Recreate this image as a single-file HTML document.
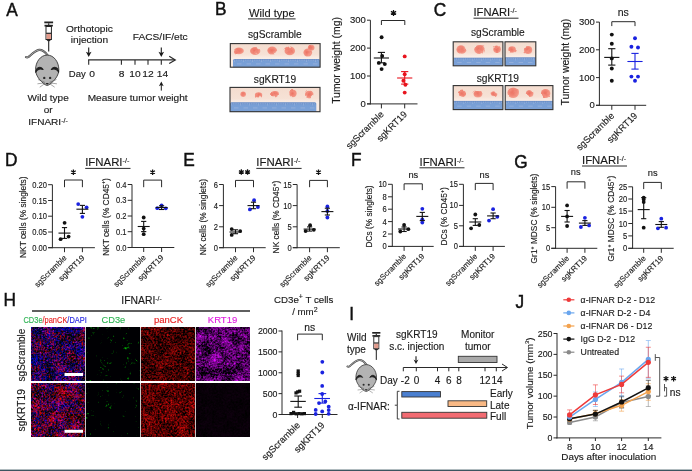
<!DOCTYPE html>
<html><head><meta charset="utf-8"><style>
html,body{margin:0;padding:0;background:#fff;}
svg{display:block;will-change:transform;}
text{font-family:"Liberation Sans", sans-serif;}
</style></head><body>
<svg width="692" height="471" viewBox="0 0 692 471" font-family='"Liberation Sans", sans-serif'>
<defs><filter id="fMerge" x="0" y="0" width="1" height="1" color-interpolation-filters="sRGB">
  <feTurbulence type="fractalNoise" baseFrequency="0.55" numOctaves="2" seed="4" result="t1"/>
  <feColorMatrix in="t1" type="matrix" values="1 0 0 0 0  0 1 0 0 0  0 0 1 0 0  0 0 0 0 1" result="f1"/>
  <feTurbulence type="fractalNoise" baseFrequency="0.09" numOctaves="2" seed="54" result="t2"/>
  <feColorMatrix in="t2" type="matrix" values="1 0 0 0 0  0 1 0 0 0  0 0 1 0 0  0 0 0 0 1" result="f2"/>
  <feComposite in="f1" in2="f2" operator="arithmetic" k1="0" k2="0.8" k3="0.4" k4="-0.10000000000000009" result="m"/>
  <feColorMatrix in="m" type="matrix" values="2.2 0 0 0 -0.95   0 0 0 0 0.02   0 0 1.8 0 -0.6   0 0 0 0 1"/>
  <feGaussianBlur stdDeviation="0.45"/>
</filter>
<filter id="fMerge2" x="0" y="0" width="1" height="1" color-interpolation-filters="sRGB">
  <feTurbulence type="fractalNoise" baseFrequency="0.55" numOctaves="2" seed="9" result="t1"/>
  <feColorMatrix in="t1" type="matrix" values="1 0 0 0 0  0 1 0 0 0  0 0 1 0 0  0 0 0 0 1" result="f1"/>
  <feTurbulence type="fractalNoise" baseFrequency="0.09" numOctaves="2" seed="59" result="t2"/>
  <feColorMatrix in="t2" type="matrix" values="1 0 0 0 0  0 1 0 0 0  0 0 1 0 0  0 0 0 0 1" result="f2"/>
  <feComposite in="f1" in2="f2" operator="arithmetic" k1="0" k2="0.8" k3="0.4" k4="-0.10000000000000009" result="m"/>
  <feColorMatrix in="m" type="matrix" values="2.2 0 0 0 -0.8   0 0 0 0 0.02   0 0 1.8 0 -0.7   0 0 0 0 1"/>
  <feGaussianBlur stdDeviation="0.45"/>
</filter>
<filter id="fGreen" x="0" y="0" width="1" height="1" color-interpolation-filters="sRGB">
  <feTurbulence type="fractalNoise" baseFrequency="0.4" numOctaves="2" seed="21" result="t1"/>
  <feColorMatrix in="t1" type="matrix" values="1 0 0 0 0  0 1 0 0 0  0 0 1 0 0  0 0 0 0 1" result="f1"/>
  <feTurbulence type="fractalNoise" baseFrequency="0.09" numOctaves="2" seed="71" result="t2"/>
  <feColorMatrix in="t2" type="matrix" values="1 0 0 0 0  0 1 0 0 0  0 0 1 0 0  0 0 0 0 1" result="f2"/>
  <feComposite in="f1" in2="f2" operator="arithmetic" k1="0" k2="0.65" k3="0.55" k4="-0.10000000000000009" result="m"/>
  <feColorMatrix in="m" type="matrix" values="0 0 0 0 0   0 2.9 0 0 -1.9   0 0 0 0 0.01   0 0 0 0 1"/>
  <feGaussianBlur stdDeviation="0.6"/>
</filter>
<filter id="fGreen2" x="0" y="0" width="1" height="1" color-interpolation-filters="sRGB">
  <feTurbulence type="fractalNoise" baseFrequency="0.4" numOctaves="2" seed="33" result="t1"/>
  <feColorMatrix in="t1" type="matrix" values="1 0 0 0 0  0 1 0 0 0  0 0 1 0 0  0 0 0 0 1" result="f1"/>
  <feTurbulence type="fractalNoise" baseFrequency="0.09" numOctaves="2" seed="83" result="t2"/>
  <feColorMatrix in="t2" type="matrix" values="1 0 0 0 0  0 1 0 0 0  0 0 1 0 0  0 0 0 0 1" result="f2"/>
  <feComposite in="f1" in2="f2" operator="arithmetic" k1="0" k2="0.65" k3="0.55" k4="-0.10000000000000009" result="m"/>
  <feColorMatrix in="m" type="matrix" values="0 0 0 0 0   0 2.9 0 0 -1.9   0 0 0 0 0.01   0 0 0 0 1"/>
  <feGaussianBlur stdDeviation="0.6"/>
</filter>
<filter id="fRed" x="0" y="0" width="1" height="1" color-interpolation-filters="sRGB">
  <feTurbulence type="fractalNoise" baseFrequency="0.55" numOctaves="2" seed="7" result="t1"/>
  <feColorMatrix in="t1" type="matrix" values="1 0 0 0 0  0 1 0 0 0  0 0 1 0 0  0 0 0 0 1" result="f1"/>
  <feTurbulence type="fractalNoise" baseFrequency="0.09" numOctaves="2" seed="57" result="t2"/>
  <feColorMatrix in="t2" type="matrix" values="1 0 0 0 0  0 1 0 0 0  0 0 1 0 0  0 0 0 0 1" result="f2"/>
  <feComposite in="f1" in2="f2" operator="arithmetic" k1="0" k2="0.85" k3="0.35" k4="-0.09999999999999998" result="m"/>
  <feColorMatrix in="m" type="matrix" values="1.55 0 0 0 -0.52   0.08 0 0 0 -0.03   0.08 0 0 0 -0.03   0 0 0 0 1"/>
  <feGaussianBlur stdDeviation="0.45"/>
</filter>
<filter id="fRed2" x="0" y="0" width="1" height="1" color-interpolation-filters="sRGB">
  <feTurbulence type="fractalNoise" baseFrequency="0.55" numOctaves="2" seed="13" result="t1"/>
  <feColorMatrix in="t1" type="matrix" values="1 0 0 0 0  0 1 0 0 0  0 0 1 0 0  0 0 0 0 1" result="f1"/>
  <feTurbulence type="fractalNoise" baseFrequency="0.09" numOctaves="2" seed="63" result="t2"/>
  <feColorMatrix in="t2" type="matrix" values="1 0 0 0 0  0 1 0 0 0  0 0 1 0 0  0 0 0 0 1" result="f2"/>
  <feComposite in="f1" in2="f2" operator="arithmetic" k1="0" k2="0.85" k3="0.35" k4="-0.09999999999999998" result="m"/>
  <feColorMatrix in="m" type="matrix" values="1.6 0 0 0 -0.46   0.08 0 0 0 -0.03   0.08 0 0 0 -0.03   0 0 0 0 1"/>
  <feGaussianBlur stdDeviation="0.45"/>
</filter>
<filter id="fMag" x="0" y="0" width="1" height="1" color-interpolation-filters="sRGB">
  <feTurbulence type="fractalNoise" baseFrequency="0.55" numOctaves="2" seed="11" result="t1"/>
  <feColorMatrix in="t1" type="matrix" values="1 0 0 0 0  0 1 0 0 0  0 0 1 0 0  0 0 0 0 1" result="f1"/>
  <feTurbulence type="fractalNoise" baseFrequency="0.09" numOctaves="2" seed="61" result="t2"/>
  <feColorMatrix in="t2" type="matrix" values="1 0 0 0 0  0 1 0 0 0  0 0 1 0 0  0 0 0 0 1" result="f2"/>
  <feComposite in="f1" in2="f2" operator="arithmetic" k1="0" k2="0.65" k3="0.55" k4="-0.10000000000000009" result="m"/>
  <feColorMatrix in="m" type="matrix" values="1.75 0 0 0 -0.56   0.1 0 0 0 -0.04   1.95 0 0 0 -0.6   0 0 0 0 1"/>
  <feGaussianBlur stdDeviation="0.45"/>
</filter>
<filter id="fDark" x="0" y="0" width="1" height="1" color-interpolation-filters="sRGB">
  <feTurbulence type="fractalNoise" baseFrequency="0.55" numOctaves="2" seed="5" result="t1"/>
  <feColorMatrix in="t1" type="matrix" values="1 0 0 0 0  0 1 0 0 0  0 0 1 0 0  0 0 0 0 1" result="f1"/>
  <feTurbulence type="fractalNoise" baseFrequency="0.09" numOctaves="2" seed="55" result="t2"/>
  <feColorMatrix in="t2" type="matrix" values="1 0 0 0 0  0 1 0 0 0  0 0 1 0 0  0 0 0 0 1" result="f2"/>
  <feComposite in="f1" in2="f2" operator="arithmetic" k1="0" k2="0.65" k3="0.55" k4="-0.10000000000000009" result="m"/>
  <feColorMatrix in="m" type="matrix" values="0.12 0 0 0 -0.03   0 0 0 0 0   0.12 0 0 0 -0.03   0 0 0 0 1"/>
  <feGaussianBlur stdDeviation="0.45"/>
</filter>
<filter id="fLump" x="-0.2" y="-0.2" width="1.4" height="1.4" color-interpolation-filters="sRGB">
  <feTurbulence type="fractalNoise" baseFrequency="0.16" numOctaves="1" seed="17" result="n"/>
  <feDisplacementMap in="SourceGraphic" in2="n" scale="3" xChannelSelector="R" yChannelSelector="G" result="d"/>
  <feTurbulence type="fractalNoise" baseFrequency="0.32" numOctaves="1" seed="23" result="n2"/>
  <feColorMatrix in="n2" type="matrix" values="0 0 0 0 0.97  0 0 0 0 0.62  0 0 0 0 0.56  1.6 0 0 0 -0.78" result="hl"/>
  <feComposite in="hl" in2="d" operator="atop" result="c"/>
  <feGaussianBlur in="c" stdDeviation="0.3"/>
</filter>
<linearGradient id="gPeach" x1="0" y1="0" x2="0" y2="1">
  <stop offset="0" stop-color="#f4dccf"/><stop offset="0.45" stop-color="#f6e1d5"/><stop offset="0.62" stop-color="#faede5"/><stop offset="1" stop-color="#f8eae1"/>
</linearGradient>
<linearGradient id="gRuler" x1="0" y1="0" x2="0" y2="1">
  <stop offset="0" stop-color="#6489c3"/><stop offset="0.25" stop-color="#789fd6"/><stop offset="1" stop-color="#7ca2d8"/>
</linearGradient>
<radialGradient id="gTumor" cx="0.45" cy="0.45" r="0.6">
  <stop offset="0" stop-color="#ec7262"/><stop offset="0.55" stop-color="#f08676"/><stop offset="0.85" stop-color="#f39a8a"/><stop offset="1" stop-color="#f6b2a2"/>
</radialGradient>
</defs>
<rect width="692" height="471" fill="#fff"/>
<text x="0" y="0" font-size="18.2" fill="#111" stroke="#111" stroke-width="0.45" transform="translate(6.27 16.0) scale(0.95 1)">A</text>
<g transform="translate(48.7 21.5) scale(1.0)"><rect x="-4.4" y="0" width="8.8" height="1.8" fill="#222"/><rect x="-0.6" y="1.8" width="1.2" height="1.6" fill="#222"/><rect x="-4.2" y="3.3" width="8.4" height="1.7" fill="#222"/><rect x="-2.7" y="5" width="5.4" height="13" fill="#fff" stroke="#222" stroke-width="1"/><rect x="-2.2" y="12.2" width="4.4" height="5.3" fill="#e29a8b"/><rect x="-2.6" y="11.2" width="5.2" height="1.2" fill="#222"/><path d="M-2.7,18 L0,20.5 L2.7,18 Z" fill="#222"/><rect x="-0.55" y="20" width="1.1" height="10" fill="#222"/></g>
<g transform="translate(47.2 55.1) scale(1.13)"><path d="M0.4,0.2 C-2,-3 -4.5,-4.8 -7.2,-4.6 C-10.5,-4.2 -14,-0.5 -16.5,1.6 C-17.4,2.2 -18.3,2.1 -18.8,1.8" fill="none" stroke="#4a4a4a" stroke-width="1.9" stroke-linecap="round"/><path d="M0.4,0.2 C-2,-3 -4.5,-4.8 -7.2,-4.6 C-10.5,-4.2 -14,-0.5 -16.5,1.6 C-17.4,2.2 -18.3,2.1 -18.8,1.8" fill="none" stroke="#b5b5b5" stroke-width="0.8" stroke-linecap="round"/><path d="M0,0 C6,0 10.3,6.2 10.3,12.8 C10.3,18.2 6.2,23 1.8,26.2 L0,26.9 L-1.8,26.2 C-6.2,23 -10.3,18.2 -10.3,12.8 C-10.3,6.2 -6,0 0,0 Z" fill="#b3b3b3" stroke="#3a3a3a" stroke-width="0.8"/><path d="M-10.2,15.2 C-9.8,10.4 -5.6,9.2 -3.6,12.8 C-5.8,11.6 -8.8,12.2 -10.2,15.2 Z" fill="#1e1e1e" stroke="#1e1e1e" stroke-width="0.9" stroke-linejoin="round"/><path d="M10.2,15.2 C9.8,10.4 5.6,9.2 3.6,12.8 C5.8,11.6 8.8,12.2 10.2,15.2 Z" fill="#1e1e1e" stroke="#1e1e1e" stroke-width="0.9" stroke-linejoin="round"/><circle cx="-2.6" cy="20.2" r="1.05" fill="#2a2a2a"/><circle cx="2.6" cy="20.2" r="1.05" fill="#2a2a2a"/><path d="M-1.6,24.6 L0,26.2 L1.6,24.6 Z" fill="#222"/><path d="M-2.2,24 L-8.2,21.6 M-2.2,24.6 L-8.6,25.4 M-2,25.2 L-6.6,28.4 M2.2,24 L8.2,21.6 M2.2,24.6 L8.6,25.4 M2,25.2 L6.6,28.4" stroke="#555" stroke-width="0.45" fill="none"/></g>
<text x="0" y="0" font-size="9.3" text-anchor="middle" fill="#1a1a1a" transform="translate(48.1 101.2) scale(1.08 1)" stroke="#1a1a1a" stroke-width="0.14" >Wild type</text>
<text x="0" y="0" font-size="9.3" text-anchor="middle" fill="#1a1a1a" transform="translate(48.1 113.3) scale(1.08 1)" stroke="#1a1a1a" stroke-width="0.14" >or</text>
<text x="0" y="0" font-size="9.3" text-anchor="start" fill="#1a1a1a" transform="translate(28.3 125.4) scale(1.08 1)" stroke="#1a1a1a" stroke-width="0.14" >IFNARI<tspan font-size="6.6" dy="-2.8">-/-</tspan></text>
<text x="0" y="0" font-size="9.600000000000001" text-anchor="middle" fill="#1a1a1a" transform="translate(89.4 31.7) scale(1.06 1)" stroke="#1a1a1a" stroke-width="0.14" >Orthotopic</text>
<text x="0" y="0" font-size="9.600000000000001" text-anchor="middle" fill="#1a1a1a" transform="translate(89.4 43.4) scale(1.06 1)" stroke="#1a1a1a" stroke-width="0.14" >injection</text>
<line x1="88.7" y1="47.5" x2="88.7" y2="55.0" stroke="#1a1a1a" stroke-width="1.1" />
<path d="M85.9,51.8 L88.7,57.0 L91.5,51.8 L88.7,53.099999999999994 Z" fill="#1a1a1a"/>
<line x1="88.1" y1="59.9" x2="175" y2="59.9" stroke="#2a2a2a" stroke-width="1.3" />
<polyline points="169.2,56.2 175.3,59.9 169.2,63.6" fill="none" stroke="#2a2a2a" stroke-width="1.2"/>
<line x1="88.7" y1="59.9" x2="88.7" y2="64.8" stroke="#2a2a2a" stroke-width="1.1" />
<line x1="121.4" y1="59.9" x2="121.4" y2="64.8" stroke="#2a2a2a" stroke-width="1.1" />
<line x1="135" y1="59.9" x2="135" y2="64.8" stroke="#2a2a2a" stroke-width="1.1" />
<line x1="148" y1="59.9" x2="148" y2="64.8" stroke="#2a2a2a" stroke-width="1.1" />
<line x1="161.3" y1="59.9" x2="161.3" y2="64.8" stroke="#2a2a2a" stroke-width="1.1" />
<text x="68.8" y="76.6" font-size="9.5" text-anchor="start" fill="#1a1a1a" stroke="#1a1a1a" stroke-width="0.14" >Day</text>
<text x="0" y="0" font-size="9.5" text-anchor="middle" fill="#1a1a1a" transform="translate(92.0 76.8) scale(1.08 1)" stroke="#1a1a1a" stroke-width="0.14" >0</text>
<text x="0" y="0" font-size="9.5" text-anchor="middle" fill="#1a1a1a" transform="translate(121.6 76.8) scale(1.08 1)" stroke="#1a1a1a" stroke-width="0.14" >8</text>
<text x="0" y="0" font-size="9.5" text-anchor="middle" fill="#1a1a1a" transform="translate(135 76.8) scale(1.08 1)" stroke="#1a1a1a" stroke-width="0.14" >10</text>
<text x="0" y="0" font-size="9.5" text-anchor="middle" fill="#1a1a1a" transform="translate(148 76.8) scale(1.08 1)" stroke="#1a1a1a" stroke-width="0.14" >12</text>
<text x="0" y="0" font-size="9.5" text-anchor="middle" fill="#1a1a1a" transform="translate(162.4 76.8) scale(1.08 1)" stroke="#1a1a1a" stroke-width="0.14" >14</text>
<text x="0" y="0" font-size="9.600000000000001" text-anchor="middle" fill="#1a1a1a" transform="translate(160.2 40) scale(1.06 1)" stroke="#1a1a1a" stroke-width="0.14" >FACS/IF/etc</text>
<line x1="161.3" y1="47.5" x2="161.3" y2="55.0" stroke="#1a1a1a" stroke-width="1.1" />
<path d="M158.5,51.8 L161.3,57.0 L164.10000000000002,51.8 L161.3,53.099999999999994 Z" fill="#1a1a1a"/>
<line x1="161.3" y1="90.6" x2="161.3" y2="83.6" stroke="#1a1a1a" stroke-width="1.0" />
<path d="M158.9,86.19999999999999 L161.3,81.6 L163.70000000000002,86.19999999999999 L161.3,84.99999999999999 Z" fill="#1a1a1a"/>
<text x="0" y="0" font-size="9.5" text-anchor="middle" fill="#1a1a1a" transform="translate(137.6 100.8) scale(1.065 1)" stroke="#1a1a1a" stroke-width="0.14" >Measure tumor weight</text>
<text x="0" y="0" font-size="18.2" fill="#111" stroke="#111" stroke-width="0.45" transform="translate(214.9 15.4) scale(0.95 1)">B</text>
<text x="271.8" y="16.9" font-size="11.1" text-anchor="middle" fill="#1a1a1a" stroke="#1a1a1a" stroke-width="0.14" >Wild type</text>
<line x1="248" y1="18.9" x2="295.6" y2="18.9" stroke="#2a2a2a" stroke-width="1.0" />
<text x="274.9" y="37.5" font-size="10.2" text-anchor="middle" fill="#1a1a1a" stroke="#1a1a1a" stroke-width="0.14" >sgScramble</text>
<clipPath id="phc1"><rect x="230.3" y="43.6" width="89.8" height="23.6"/></clipPath>
<g clip-path="url(#phc1)">
<rect x="230.3" y="43.6" width="89.8" height="23.6" fill="url(#gPeach)" stroke="none" stroke-width="1" />
<rect x="233.0" y="58.9" width="87.10000000000002" height="10.300000000000004" rx="1.5" fill="url(#gRuler)"/>
<line x1="234.5" y1="59.5" x2="234.5" y2="62.1" stroke="#a9bfe3" stroke-width="0.45" />
<line x1="236.3" y1="59.5" x2="236.3" y2="61.0" stroke="#a9bfe3" stroke-width="0.45" />
<line x1="238.1" y1="59.5" x2="238.1" y2="61.0" stroke="#a9bfe3" stroke-width="0.45" />
<line x1="239.9" y1="59.5" x2="239.9" y2="61.0" stroke="#a9bfe3" stroke-width="0.45" />
<line x1="241.7" y1="59.5" x2="241.7" y2="61.0" stroke="#a9bfe3" stroke-width="0.45" />
<line x1="243.5" y1="59.5" x2="243.5" y2="62.1" stroke="#a9bfe3" stroke-width="0.45" />
<line x1="245.3" y1="59.5" x2="245.3" y2="61.0" stroke="#a9bfe3" stroke-width="0.45" />
<line x1="247.1" y1="59.5" x2="247.1" y2="61.0" stroke="#a9bfe3" stroke-width="0.45" />
<line x1="248.9" y1="59.5" x2="248.9" y2="61.0" stroke="#a9bfe3" stroke-width="0.45" />
<line x1="250.7" y1="59.5" x2="250.7" y2="61.0" stroke="#a9bfe3" stroke-width="0.45" />
<line x1="252.5" y1="59.5" x2="252.5" y2="62.1" stroke="#a9bfe3" stroke-width="0.45" />
<line x1="254.3" y1="59.5" x2="254.3" y2="61.0" stroke="#a9bfe3" stroke-width="0.45" />
<line x1="256.1" y1="59.5" x2="256.1" y2="61.0" stroke="#a9bfe3" stroke-width="0.45" />
<line x1="257.9" y1="59.5" x2="257.9" y2="61.0" stroke="#a9bfe3" stroke-width="0.45" />
<line x1="259.7" y1="59.5" x2="259.7" y2="61.0" stroke="#a9bfe3" stroke-width="0.45" />
<line x1="261.5" y1="59.5" x2="261.5" y2="62.1" stroke="#a9bfe3" stroke-width="0.45" />
<line x1="263.3" y1="59.5" x2="263.3" y2="61.0" stroke="#a9bfe3" stroke-width="0.45" />
<line x1="265.1" y1="59.5" x2="265.1" y2="61.0" stroke="#a9bfe3" stroke-width="0.45" />
<line x1="266.9" y1="59.5" x2="266.9" y2="61.0" stroke="#a9bfe3" stroke-width="0.45" />
<line x1="268.7" y1="59.5" x2="268.7" y2="61.0" stroke="#a9bfe3" stroke-width="0.45" />
<line x1="270.5" y1="59.5" x2="270.5" y2="62.1" stroke="#a9bfe3" stroke-width="0.45" />
<line x1="272.3" y1="59.5" x2="272.3" y2="61.0" stroke="#a9bfe3" stroke-width="0.45" />
<line x1="274.1" y1="59.5" x2="274.1" y2="61.0" stroke="#a9bfe3" stroke-width="0.45" />
<line x1="275.9" y1="59.5" x2="275.9" y2="61.0" stroke="#a9bfe3" stroke-width="0.45" />
<line x1="277.7" y1="59.5" x2="277.7" y2="61.0" stroke="#a9bfe3" stroke-width="0.45" />
<line x1="279.5" y1="59.5" x2="279.5" y2="62.1" stroke="#a9bfe3" stroke-width="0.45" />
<line x1="281.3" y1="59.5" x2="281.3" y2="61.0" stroke="#a9bfe3" stroke-width="0.45" />
<line x1="283.1" y1="59.5" x2="283.1" y2="61.0" stroke="#a9bfe3" stroke-width="0.45" />
<line x1="284.9" y1="59.5" x2="284.9" y2="61.0" stroke="#a9bfe3" stroke-width="0.45" />
<line x1="286.7" y1="59.5" x2="286.7" y2="61.0" stroke="#a9bfe3" stroke-width="0.45" />
<line x1="288.5" y1="59.5" x2="288.5" y2="62.1" stroke="#a9bfe3" stroke-width="0.45" />
<line x1="290.3" y1="59.5" x2="290.3" y2="61.0" stroke="#a9bfe3" stroke-width="0.45" />
<line x1="292.1" y1="59.5" x2="292.1" y2="61.0" stroke="#a9bfe3" stroke-width="0.45" />
<line x1="293.9" y1="59.5" x2="293.9" y2="61.0" stroke="#a9bfe3" stroke-width="0.45" />
<line x1="295.7" y1="59.5" x2="295.7" y2="61.0" stroke="#a9bfe3" stroke-width="0.45" />
<line x1="297.5" y1="59.5" x2="297.5" y2="62.1" stroke="#a9bfe3" stroke-width="0.45" />
<line x1="299.3" y1="59.5" x2="299.3" y2="61.0" stroke="#a9bfe3" stroke-width="0.45" />
<line x1="301.1" y1="59.5" x2="301.1" y2="61.0" stroke="#a9bfe3" stroke-width="0.45" />
<line x1="302.9" y1="59.5" x2="302.9" y2="61.0" stroke="#a9bfe3" stroke-width="0.45" />
<line x1="304.7" y1="59.5" x2="304.7" y2="61.0" stroke="#a9bfe3" stroke-width="0.45" />
<line x1="306.5" y1="59.5" x2="306.5" y2="62.1" stroke="#a9bfe3" stroke-width="0.45" />
<line x1="308.3" y1="59.5" x2="308.3" y2="61.0" stroke="#a9bfe3" stroke-width="0.45" />
<line x1="310.1" y1="59.5" x2="310.1" y2="61.0" stroke="#a9bfe3" stroke-width="0.45" />
<line x1="311.9" y1="59.5" x2="311.9" y2="61.0" stroke="#a9bfe3" stroke-width="0.45" />
<line x1="313.7" y1="59.5" x2="313.7" y2="61.0" stroke="#a9bfe3" stroke-width="0.45" />
<line x1="315.5" y1="59.5" x2="315.5" y2="62.1" stroke="#a9bfe3" stroke-width="0.45" />
<line x1="317.3" y1="59.5" x2="317.3" y2="61.0" stroke="#a9bfe3" stroke-width="0.45" />
<line x1="319.1" y1="59.5" x2="319.1" y2="61.0" stroke="#a9bfe3" stroke-width="0.45" />
<rect x="237.0" y="63.465" width="4.5" height="0.9" fill="#9db4dc" stroke="none" stroke-width="1" opacity="0.8"/>
<rect x="246.5" y="63.465" width="4.5" height="0.9" fill="#9db4dc" stroke="none" stroke-width="1" opacity="0.8"/>
<rect x="256.0" y="63.465" width="4.5" height="0.9" fill="#9db4dc" stroke="none" stroke-width="1" opacity="0.8"/>
<rect x="265.5" y="63.465" width="4.5" height="0.9" fill="#9db4dc" stroke="none" stroke-width="1" opacity="0.8"/>
<rect x="275.0" y="63.465" width="4.5" height="0.9" fill="#9db4dc" stroke="none" stroke-width="1" opacity="0.8"/>
<rect x="284.5" y="63.465" width="4.5" height="0.9" fill="#9db4dc" stroke="none" stroke-width="1" opacity="0.8"/>
<rect x="294.0" y="63.465" width="4.5" height="0.9" fill="#9db4dc" stroke="none" stroke-width="1" opacity="0.8"/>
<rect x="303.5" y="63.465" width="4.5" height="0.9" fill="#9db4dc" stroke="none" stroke-width="1" opacity="0.8"/>
<rect x="313.0" y="63.465" width="4.5" height="0.9" fill="#9db4dc" stroke="none" stroke-width="1" opacity="0.8"/>
<g filter="url(#fLump)">
<ellipse cx="238.9" cy="50.9" rx="5" ry="3.4" fill="url(#gTumor)"/>
<ellipse cx="255.2" cy="51" rx="5.2" ry="4" fill="url(#gTumor)"/>
<ellipse cx="272.2" cy="50.6" rx="4.9" ry="4" fill="url(#gTumor)"/>
<ellipse cx="289.8" cy="50.9" rx="5.3" ry="4.3" fill="url(#gTumor)"/>
<ellipse cx="307.8" cy="52.6" rx="4.4" ry="4" fill="url(#gTumor)"/>
<ellipse cx="311.2" cy="47.8" rx="3.4" ry="3.0" fill="url(#gTumor)"/>
</g>
</g>
<rect x="230.3" y="43.6" width="89.8" height="23.6" fill="none" stroke="#303030" stroke-width="1.1" />
<text x="275" y="83.3" font-size="10.2" text-anchor="middle" fill="#1a1a1a" stroke="#1a1a1a" stroke-width="0.14" >sgKRT19</text>
<clipPath id="phc2"><rect x="230" y="87.4" width="90" height="24.3"/></clipPath>
<g clip-path="url(#phc2)">
<rect x="230" y="87.4" width="90" height="24.3" fill="url(#gPeach)" stroke="none" stroke-width="1" />
<rect x="230" y="102.3" width="86.30000000000001" height="11.400000000000006" rx="1.5" fill="url(#gRuler)"/>
<line x1="231.5" y1="102.89999999999999" x2="231.5" y2="105.49999999999999" stroke="#a9bfe3" stroke-width="0.45" />
<line x1="233.3" y1="102.89999999999999" x2="233.3" y2="104.39999999999999" stroke="#a9bfe3" stroke-width="0.45" />
<line x1="235.1" y1="102.89999999999999" x2="235.1" y2="104.39999999999999" stroke="#a9bfe3" stroke-width="0.45" />
<line x1="236.9" y1="102.89999999999999" x2="236.9" y2="104.39999999999999" stroke="#a9bfe3" stroke-width="0.45" />
<line x1="238.7" y1="102.89999999999999" x2="238.7" y2="104.39999999999999" stroke="#a9bfe3" stroke-width="0.45" />
<line x1="240.5" y1="102.89999999999999" x2="240.5" y2="105.49999999999999" stroke="#a9bfe3" stroke-width="0.45" />
<line x1="242.3" y1="102.89999999999999" x2="242.3" y2="104.39999999999999" stroke="#a9bfe3" stroke-width="0.45" />
<line x1="244.1" y1="102.89999999999999" x2="244.1" y2="104.39999999999999" stroke="#a9bfe3" stroke-width="0.45" />
<line x1="245.9" y1="102.89999999999999" x2="245.9" y2="104.39999999999999" stroke="#a9bfe3" stroke-width="0.45" />
<line x1="247.7" y1="102.89999999999999" x2="247.7" y2="104.39999999999999" stroke="#a9bfe3" stroke-width="0.45" />
<line x1="249.5" y1="102.89999999999999" x2="249.5" y2="105.49999999999999" stroke="#a9bfe3" stroke-width="0.45" />
<line x1="251.3" y1="102.89999999999999" x2="251.3" y2="104.39999999999999" stroke="#a9bfe3" stroke-width="0.45" />
<line x1="253.1" y1="102.89999999999999" x2="253.1" y2="104.39999999999999" stroke="#a9bfe3" stroke-width="0.45" />
<line x1="254.9" y1="102.89999999999999" x2="254.9" y2="104.39999999999999" stroke="#a9bfe3" stroke-width="0.45" />
<line x1="256.7" y1="102.89999999999999" x2="256.7" y2="104.39999999999999" stroke="#a9bfe3" stroke-width="0.45" />
<line x1="258.5" y1="102.89999999999999" x2="258.5" y2="105.49999999999999" stroke="#a9bfe3" stroke-width="0.45" />
<line x1="260.3" y1="102.89999999999999" x2="260.3" y2="104.39999999999999" stroke="#a9bfe3" stroke-width="0.45" />
<line x1="262.1" y1="102.89999999999999" x2="262.1" y2="104.39999999999999" stroke="#a9bfe3" stroke-width="0.45" />
<line x1="263.9" y1="102.89999999999999" x2="263.9" y2="104.39999999999999" stroke="#a9bfe3" stroke-width="0.45" />
<line x1="265.7" y1="102.89999999999999" x2="265.7" y2="104.39999999999999" stroke="#a9bfe3" stroke-width="0.45" />
<line x1="267.5" y1="102.89999999999999" x2="267.5" y2="105.49999999999999" stroke="#a9bfe3" stroke-width="0.45" />
<line x1="269.3" y1="102.89999999999999" x2="269.3" y2="104.39999999999999" stroke="#a9bfe3" stroke-width="0.45" />
<line x1="271.1" y1="102.89999999999999" x2="271.1" y2="104.39999999999999" stroke="#a9bfe3" stroke-width="0.45" />
<line x1="272.9" y1="102.89999999999999" x2="272.9" y2="104.39999999999999" stroke="#a9bfe3" stroke-width="0.45" />
<line x1="274.7" y1="102.89999999999999" x2="274.7" y2="104.39999999999999" stroke="#a9bfe3" stroke-width="0.45" />
<line x1="276.5" y1="102.89999999999999" x2="276.5" y2="105.49999999999999" stroke="#a9bfe3" stroke-width="0.45" />
<line x1="278.3" y1="102.89999999999999" x2="278.3" y2="104.39999999999999" stroke="#a9bfe3" stroke-width="0.45" />
<line x1="280.1" y1="102.89999999999999" x2="280.1" y2="104.39999999999999" stroke="#a9bfe3" stroke-width="0.45" />
<line x1="281.9" y1="102.89999999999999" x2="281.9" y2="104.39999999999999" stroke="#a9bfe3" stroke-width="0.45" />
<line x1="283.7" y1="102.89999999999999" x2="283.7" y2="104.39999999999999" stroke="#a9bfe3" stroke-width="0.45" />
<line x1="285.5" y1="102.89999999999999" x2="285.5" y2="105.49999999999999" stroke="#a9bfe3" stroke-width="0.45" />
<line x1="287.3" y1="102.89999999999999" x2="287.3" y2="104.39999999999999" stroke="#a9bfe3" stroke-width="0.45" />
<line x1="289.1" y1="102.89999999999999" x2="289.1" y2="104.39999999999999" stroke="#a9bfe3" stroke-width="0.45" />
<line x1="290.9" y1="102.89999999999999" x2="290.9" y2="104.39999999999999" stroke="#a9bfe3" stroke-width="0.45" />
<line x1="292.7" y1="102.89999999999999" x2="292.7" y2="104.39999999999999" stroke="#a9bfe3" stroke-width="0.45" />
<line x1="294.5" y1="102.89999999999999" x2="294.5" y2="105.49999999999999" stroke="#a9bfe3" stroke-width="0.45" />
<line x1="296.3" y1="102.89999999999999" x2="296.3" y2="104.39999999999999" stroke="#a9bfe3" stroke-width="0.45" />
<line x1="298.1" y1="102.89999999999999" x2="298.1" y2="104.39999999999999" stroke="#a9bfe3" stroke-width="0.45" />
<line x1="299.9" y1="102.89999999999999" x2="299.9" y2="104.39999999999999" stroke="#a9bfe3" stroke-width="0.45" />
<line x1="301.7" y1="102.89999999999999" x2="301.7" y2="104.39999999999999" stroke="#a9bfe3" stroke-width="0.45" />
<line x1="303.5" y1="102.89999999999999" x2="303.5" y2="105.49999999999999" stroke="#a9bfe3" stroke-width="0.45" />
<line x1="305.3" y1="102.89999999999999" x2="305.3" y2="104.39999999999999" stroke="#a9bfe3" stroke-width="0.45" />
<line x1="307.1" y1="102.89999999999999" x2="307.1" y2="104.39999999999999" stroke="#a9bfe3" stroke-width="0.45" />
<line x1="308.9" y1="102.89999999999999" x2="308.9" y2="104.39999999999999" stroke="#a9bfe3" stroke-width="0.45" />
<line x1="310.7" y1="102.89999999999999" x2="310.7" y2="104.39999999999999" stroke="#a9bfe3" stroke-width="0.45" />
<line x1="312.5" y1="102.89999999999999" x2="312.5" y2="105.49999999999999" stroke="#a9bfe3" stroke-width="0.45" />
<line x1="314.3" y1="102.89999999999999" x2="314.3" y2="104.39999999999999" stroke="#a9bfe3" stroke-width="0.45" />
<rect x="234" y="107.47" width="4.5" height="0.9" fill="#9db4dc" stroke="none" stroke-width="1" opacity="0.8"/>
<rect x="243.5" y="107.47" width="4.5" height="0.9" fill="#9db4dc" stroke="none" stroke-width="1" opacity="0.8"/>
<rect x="253.0" y="107.47" width="4.5" height="0.9" fill="#9db4dc" stroke="none" stroke-width="1" opacity="0.8"/>
<rect x="262.5" y="107.47" width="4.5" height="0.9" fill="#9db4dc" stroke="none" stroke-width="1" opacity="0.8"/>
<rect x="272.0" y="107.47" width="4.5" height="0.9" fill="#9db4dc" stroke="none" stroke-width="1" opacity="0.8"/>
<rect x="281.5" y="107.47" width="4.5" height="0.9" fill="#9db4dc" stroke="none" stroke-width="1" opacity="0.8"/>
<rect x="291.0" y="107.47" width="4.5" height="0.9" fill="#9db4dc" stroke="none" stroke-width="1" opacity="0.8"/>
<rect x="300.5" y="107.47" width="4.5" height="0.9" fill="#9db4dc" stroke="none" stroke-width="1" opacity="0.8"/>
<rect x="310.0" y="107.47" width="4.5" height="0.9" fill="#9db4dc" stroke="none" stroke-width="1" opacity="0.8"/>
<g filter="url(#fLump)">
<ellipse cx="243.2" cy="94.2" rx="2.8" ry="2.7" fill="url(#gTumor)"/>
<ellipse cx="258.6" cy="94.9" rx="3.7" ry="2.7" fill="url(#gTumor)"/>
<ellipse cx="274.5" cy="94.2" rx="3.5" ry="3.2" fill="url(#gTumor)"/>
<ellipse cx="293" cy="93.5" rx="3.7" ry="3.7" fill="url(#gTumor)"/>
<ellipse cx="309.3" cy="94.6" rx="4.3" ry="3.8" fill="url(#gTumor)"/>
</g>
</g>
<rect x="230" y="87.4" width="90" height="24.3" fill="none" stroke="#303030" stroke-width="1.1" />
<line x1="370.4" y1="20.2" x2="370.4" y2="104.4" stroke="#2a2a2a" stroke-width="1.0" />
<line x1="367.0" y1="103.9" x2="417.5" y2="103.9" stroke="#2a2a2a" stroke-width="1.0" />
<line x1="367.0" y1="103.9" x2="370.4" y2="103.9" stroke="#2a2a2a" stroke-width="1.0" />
<text x="365.8" y="106.95" font-size="9.5" text-anchor="end" fill="#1a1a1a" stroke="#1a1a1a" stroke-width="0.14" >0</text>
<line x1="367.0" y1="76.0" x2="370.4" y2="76.0" stroke="#2a2a2a" stroke-width="1.0" />
<text x="365.8" y="79.05" font-size="9.5" text-anchor="end" fill="#1a1a1a" stroke="#1a1a1a" stroke-width="0.14" >100</text>
<line x1="367.0" y1="48.1" x2="370.4" y2="48.1" stroke="#2a2a2a" stroke-width="1.0" />
<text x="365.8" y="51.15" font-size="9.5" text-anchor="end" fill="#1a1a1a" stroke="#1a1a1a" stroke-width="0.14" >200</text>
<line x1="367.0" y1="20.2" x2="370.4" y2="20.2" stroke="#2a2a2a" stroke-width="1.0" />
<text x="365.8" y="23.25" font-size="9.5" text-anchor="end" fill="#1a1a1a" stroke="#1a1a1a" stroke-width="0.14" >300</text>
<line x1="381.4" y1="103.9" x2="381.4" y2="108.4" stroke="#2a2a2a" stroke-width="1.0" />
<line x1="404.7" y1="103.9" x2="404.7" y2="108.4" stroke="#2a2a2a" stroke-width="1.0" />
<circle cx="381.6" cy="37.2" r="1.95" fill="#111"/>
<circle cx="382.2" cy="56.0" r="1.95" fill="#111"/>
<circle cx="378.8" cy="62.9" r="1.95" fill="#111"/>
<circle cx="384.8" cy="64.1" r="1.95" fill="#111"/>
<circle cx="381.6" cy="69.1" r="1.95" fill="#111"/>
<line x1="373.79999999999995" y1="58.0" x2="389.0" y2="58.0" stroke="#111" stroke-width="1.1" />
<line x1="381.4" y1="62.8" x2="381.4" y2="52.4" stroke="#111" stroke-width="1.1" />
<line x1="377.79999999999995" y1="62.8" x2="385.0" y2="62.8" stroke="#111" stroke-width="1.1" />
<line x1="377.79999999999995" y1="52.4" x2="385.0" y2="52.4" stroke="#111" stroke-width="1.1" />
<circle cx="404.7" cy="56.4" r="1.95" fill="#e8141e"/>
<circle cx="404.7" cy="74.2" r="1.95" fill="#e8141e"/>
<circle cx="403.4" cy="80.7" r="1.95" fill="#e8141e"/>
<circle cx="405.4" cy="84.7" r="1.95" fill="#e8141e"/>
<circle cx="404.7" cy="92.6" r="1.95" fill="#e8141e"/>
<line x1="397.09999999999997" y1="78.0" x2="412.3" y2="78.0" stroke="#e8141e" stroke-width="1.1" />
<line x1="404.7" y1="84.1" x2="404.7" y2="71.6" stroke="#e8141e" stroke-width="1.1" />
<line x1="401.09999999999997" y1="84.1" x2="408.3" y2="84.1" stroke="#e8141e" stroke-width="1.1" />
<line x1="401.09999999999997" y1="71.6" x2="408.3" y2="71.6" stroke="#e8141e" stroke-width="1.1" />
<polyline points="381.4,25.0 381.4,20.5 404.8,20.5 404.8,25.0" fill="none" stroke="#2a2a2a" stroke-width="1.0"/>
<path d="M393.50,9.90 L393.50,15.90 M390.90,11.40 L396.10,14.40 M396.10,11.40 L390.90,14.40 " stroke="#111" stroke-width="1.25" stroke-linecap="butt" fill="none"/>
<text x="339.8" y="60.45" font-size="10.4" text-anchor="middle" fill="#1a1a1a" transform="rotate(-90 339.8 60.45)" stroke="#1a1a1a" stroke-width="0.14" >Tumor weight (mg)</text>
<text x="384.4" y="114.9" font-size="9.3" text-anchor="end" fill="#1a1a1a" transform="rotate(-45 384.4 114.9)" stroke="#1a1a1a" stroke-width="0.14" >sgScramble</text>
<text x="407.7" y="114.9" font-size="9.3" text-anchor="end" fill="#1a1a1a" transform="rotate(-45 407.7 114.9)" stroke="#1a1a1a" stroke-width="0.14" >sgKRT19</text>
<text x="0" y="0" font-size="18.2" fill="#111" stroke="#111" stroke-width="0.45" transform="translate(433.8 15.6) scale(0.95 1)">C</text>
<text x="473.5" y="15.7" font-size="11.2" text-anchor="start" fill="#1a1a1a" stroke="#1a1a1a" stroke-width="0.14" >IFNARI<tspan font-size="7.2" dy="-3.0">-/-</tspan></text>
<line x1="473.5" y1="18.2" x2="518.5" y2="18.2" stroke="#2a2a2a" stroke-width="1.0" />
<text x="497.9" y="35.5" font-size="10.2" text-anchor="middle" fill="#1a1a1a" stroke="#1a1a1a" stroke-width="0.14" >sgScramble</text>
<clipPath id="phc3"><rect x="453.2" y="41.8" width="49.7" height="24.0"/></clipPath>
<g clip-path="url(#phc3)">
<rect x="453.2" y="41.8" width="49.7" height="24.0" fill="url(#gPeach)" stroke="none" stroke-width="1" />
<rect x="453.2" y="57.7" width="49.69999999999999" height="10.099999999999994"  fill="url(#gRuler)"/>
<line x1="454.7" y1="58.300000000000004" x2="454.7" y2="60.900000000000006" stroke="#a9bfe3" stroke-width="0.45" />
<line x1="456.5" y1="58.300000000000004" x2="456.5" y2="59.800000000000004" stroke="#a9bfe3" stroke-width="0.45" />
<line x1="458.3" y1="58.300000000000004" x2="458.3" y2="59.800000000000004" stroke="#a9bfe3" stroke-width="0.45" />
<line x1="460.1" y1="58.300000000000004" x2="460.1" y2="59.800000000000004" stroke="#a9bfe3" stroke-width="0.45" />
<line x1="461.9" y1="58.300000000000004" x2="461.9" y2="59.800000000000004" stroke="#a9bfe3" stroke-width="0.45" />
<line x1="463.7" y1="58.300000000000004" x2="463.7" y2="60.900000000000006" stroke="#a9bfe3" stroke-width="0.45" />
<line x1="465.5" y1="58.300000000000004" x2="465.5" y2="59.800000000000004" stroke="#a9bfe3" stroke-width="0.45" />
<line x1="467.3" y1="58.300000000000004" x2="467.3" y2="59.800000000000004" stroke="#a9bfe3" stroke-width="0.45" />
<line x1="469.1" y1="58.300000000000004" x2="469.1" y2="59.800000000000004" stroke="#a9bfe3" stroke-width="0.45" />
<line x1="470.9" y1="58.300000000000004" x2="470.9" y2="59.800000000000004" stroke="#a9bfe3" stroke-width="0.45" />
<line x1="472.7" y1="58.300000000000004" x2="472.7" y2="60.900000000000006" stroke="#a9bfe3" stroke-width="0.45" />
<line x1="474.5" y1="58.300000000000004" x2="474.5" y2="59.800000000000004" stroke="#a9bfe3" stroke-width="0.45" />
<line x1="476.3" y1="58.300000000000004" x2="476.3" y2="59.800000000000004" stroke="#a9bfe3" stroke-width="0.45" />
<line x1="478.1" y1="58.300000000000004" x2="478.1" y2="59.800000000000004" stroke="#a9bfe3" stroke-width="0.45" />
<line x1="479.9" y1="58.300000000000004" x2="479.9" y2="59.800000000000004" stroke="#a9bfe3" stroke-width="0.45" />
<line x1="481.7" y1="58.300000000000004" x2="481.7" y2="60.900000000000006" stroke="#a9bfe3" stroke-width="0.45" />
<line x1="483.5" y1="58.300000000000004" x2="483.5" y2="59.800000000000004" stroke="#a9bfe3" stroke-width="0.45" />
<line x1="485.3" y1="58.300000000000004" x2="485.3" y2="59.800000000000004" stroke="#a9bfe3" stroke-width="0.45" />
<line x1="487.1" y1="58.300000000000004" x2="487.1" y2="59.800000000000004" stroke="#a9bfe3" stroke-width="0.45" />
<line x1="488.9" y1="58.300000000000004" x2="488.9" y2="59.800000000000004" stroke="#a9bfe3" stroke-width="0.45" />
<line x1="490.7" y1="58.300000000000004" x2="490.7" y2="60.900000000000006" stroke="#a9bfe3" stroke-width="0.45" />
<line x1="492.5" y1="58.300000000000004" x2="492.5" y2="59.800000000000004" stroke="#a9bfe3" stroke-width="0.45" />
<line x1="494.3" y1="58.300000000000004" x2="494.3" y2="59.800000000000004" stroke="#a9bfe3" stroke-width="0.45" />
<line x1="496.1" y1="58.300000000000004" x2="496.1" y2="59.800000000000004" stroke="#a9bfe3" stroke-width="0.45" />
<line x1="497.9" y1="58.300000000000004" x2="497.9" y2="59.800000000000004" stroke="#a9bfe3" stroke-width="0.45" />
<line x1="499.7" y1="58.300000000000004" x2="499.7" y2="60.900000000000006" stroke="#a9bfe3" stroke-width="0.45" />
<line x1="501.5" y1="58.300000000000004" x2="501.5" y2="59.800000000000004" stroke="#a9bfe3" stroke-width="0.45" />
<rect x="457.2" y="62.155" width="4.5" height="0.9" fill="#9db4dc" stroke="none" stroke-width="1" opacity="0.8"/>
<rect x="466.7" y="62.155" width="4.5" height="0.9" fill="#9db4dc" stroke="none" stroke-width="1" opacity="0.8"/>
<rect x="476.2" y="62.155" width="4.5" height="0.9" fill="#9db4dc" stroke="none" stroke-width="1" opacity="0.8"/>
<rect x="485.7" y="62.155" width="4.5" height="0.9" fill="#9db4dc" stroke="none" stroke-width="1" opacity="0.8"/>
<rect x="495.2" y="62.155" width="4.5" height="0.9" fill="#9db4dc" stroke="none" stroke-width="1" opacity="0.8"/>
<g filter="url(#fLump)">
<ellipse cx="461" cy="49.5" rx="4.6" ry="4.3" fill="url(#gTumor)"/>
<ellipse cx="479.5" cy="49.5" rx="5.3" ry="4.6" fill="url(#gTumor)"/>
<ellipse cx="497.1" cy="49.2" rx="3.8" ry="3.8" fill="url(#gTumor)"/>
</g>
</g>
<rect x="453.2" y="41.8" width="49.7" height="24.0" fill="none" stroke="#303030" stroke-width="1.1" />
<clipPath id="phc4"><rect x="505.0" y="41.8" width="30.8" height="24.0"/></clipPath>
<g clip-path="url(#phc4)">
<rect x="505.0" y="41.8" width="30.8" height="24.0" fill="url(#gPeach)" stroke="none" stroke-width="1" />
<rect x="505.0" y="57.3" width="30.799999999999955" height="10.5"  fill="url(#gRuler)"/>
<line x1="506.5" y1="57.9" x2="506.5" y2="60.5" stroke="#a9bfe3" stroke-width="0.45" />
<line x1="508.3" y1="57.9" x2="508.3" y2="59.4" stroke="#a9bfe3" stroke-width="0.45" />
<line x1="510.1" y1="57.9" x2="510.1" y2="59.4" stroke="#a9bfe3" stroke-width="0.45" />
<line x1="511.9" y1="57.9" x2="511.9" y2="59.4" stroke="#a9bfe3" stroke-width="0.45" />
<line x1="513.7" y1="57.9" x2="513.7" y2="59.4" stroke="#a9bfe3" stroke-width="0.45" />
<line x1="515.5" y1="57.9" x2="515.5" y2="60.5" stroke="#a9bfe3" stroke-width="0.45" />
<line x1="517.3" y1="57.9" x2="517.3" y2="59.4" stroke="#a9bfe3" stroke-width="0.45" />
<line x1="519.1" y1="57.9" x2="519.1" y2="59.4" stroke="#a9bfe3" stroke-width="0.45" />
<line x1="520.9" y1="57.9" x2="520.9" y2="59.4" stroke="#a9bfe3" stroke-width="0.45" />
<line x1="522.7" y1="57.9" x2="522.7" y2="59.4" stroke="#a9bfe3" stroke-width="0.45" />
<line x1="524.5" y1="57.9" x2="524.5" y2="60.5" stroke="#a9bfe3" stroke-width="0.45" />
<line x1="526.3" y1="57.9" x2="526.3" y2="59.4" stroke="#a9bfe3" stroke-width="0.45" />
<line x1="528.1" y1="57.9" x2="528.1" y2="59.4" stroke="#a9bfe3" stroke-width="0.45" />
<line x1="529.9" y1="57.9" x2="529.9" y2="59.4" stroke="#a9bfe3" stroke-width="0.45" />
<line x1="531.7" y1="57.9" x2="531.7" y2="59.4" stroke="#a9bfe3" stroke-width="0.45" />
<line x1="533.5" y1="57.9" x2="533.5" y2="60.5" stroke="#a9bfe3" stroke-width="0.45" />
<line x1="535.3" y1="57.9" x2="535.3" y2="59.4" stroke="#a9bfe3" stroke-width="0.45" />
<rect x="509.0" y="61.974999999999994" width="4.5" height="0.9" fill="#9db4dc" stroke="none" stroke-width="1" opacity="0.8"/>
<rect x="518.5" y="61.974999999999994" width="4.5" height="0.9" fill="#9db4dc" stroke="none" stroke-width="1" opacity="0.8"/>
<rect x="528.0" y="61.974999999999994" width="4.5" height="0.9" fill="#9db4dc" stroke="none" stroke-width="1" opacity="0.8"/>
<g filter="url(#fLump)">
<ellipse cx="512.1" cy="49.5" rx="3.8" ry="3.3" fill="url(#gTumor)"/>
<ellipse cx="528.1" cy="49.9" rx="4.2" ry="4.0" fill="url(#gTumor)"/>
</g>
</g>
<rect x="505.0" y="41.8" width="30.8" height="24.0" fill="none" stroke="#303030" stroke-width="1.1" />
<text x="497.9" y="81.7" font-size="10.2" text-anchor="middle" fill="#1a1a1a" stroke="#1a1a1a" stroke-width="0.14" >sgKRT19</text>
<clipPath id="phc5"><rect x="453.2" y="85.6" width="49.7" height="24.0"/></clipPath>
<g clip-path="url(#phc5)">
<rect x="453.2" y="85.6" width="49.7" height="24.0" fill="url(#gPeach)" stroke="none" stroke-width="1" />
<rect x="453.2" y="100.9" width="49.69999999999999" height="10.699999999999989"  fill="url(#gRuler)"/>
<line x1="454.7" y1="101.5" x2="454.7" y2="104.1" stroke="#a9bfe3" stroke-width="0.45" />
<line x1="456.5" y1="101.5" x2="456.5" y2="103.0" stroke="#a9bfe3" stroke-width="0.45" />
<line x1="458.3" y1="101.5" x2="458.3" y2="103.0" stroke="#a9bfe3" stroke-width="0.45" />
<line x1="460.1" y1="101.5" x2="460.1" y2="103.0" stroke="#a9bfe3" stroke-width="0.45" />
<line x1="461.9" y1="101.5" x2="461.9" y2="103.0" stroke="#a9bfe3" stroke-width="0.45" />
<line x1="463.7" y1="101.5" x2="463.7" y2="104.1" stroke="#a9bfe3" stroke-width="0.45" />
<line x1="465.5" y1="101.5" x2="465.5" y2="103.0" stroke="#a9bfe3" stroke-width="0.45" />
<line x1="467.3" y1="101.5" x2="467.3" y2="103.0" stroke="#a9bfe3" stroke-width="0.45" />
<line x1="469.1" y1="101.5" x2="469.1" y2="103.0" stroke="#a9bfe3" stroke-width="0.45" />
<line x1="470.9" y1="101.5" x2="470.9" y2="103.0" stroke="#a9bfe3" stroke-width="0.45" />
<line x1="472.7" y1="101.5" x2="472.7" y2="104.1" stroke="#a9bfe3" stroke-width="0.45" />
<line x1="474.5" y1="101.5" x2="474.5" y2="103.0" stroke="#a9bfe3" stroke-width="0.45" />
<line x1="476.3" y1="101.5" x2="476.3" y2="103.0" stroke="#a9bfe3" stroke-width="0.45" />
<line x1="478.1" y1="101.5" x2="478.1" y2="103.0" stroke="#a9bfe3" stroke-width="0.45" />
<line x1="479.9" y1="101.5" x2="479.9" y2="103.0" stroke="#a9bfe3" stroke-width="0.45" />
<line x1="481.7" y1="101.5" x2="481.7" y2="104.1" stroke="#a9bfe3" stroke-width="0.45" />
<line x1="483.5" y1="101.5" x2="483.5" y2="103.0" stroke="#a9bfe3" stroke-width="0.45" />
<line x1="485.3" y1="101.5" x2="485.3" y2="103.0" stroke="#a9bfe3" stroke-width="0.45" />
<line x1="487.1" y1="101.5" x2="487.1" y2="103.0" stroke="#a9bfe3" stroke-width="0.45" />
<line x1="488.9" y1="101.5" x2="488.9" y2="103.0" stroke="#a9bfe3" stroke-width="0.45" />
<line x1="490.7" y1="101.5" x2="490.7" y2="104.1" stroke="#a9bfe3" stroke-width="0.45" />
<line x1="492.5" y1="101.5" x2="492.5" y2="103.0" stroke="#a9bfe3" stroke-width="0.45" />
<line x1="494.3" y1="101.5" x2="494.3" y2="103.0" stroke="#a9bfe3" stroke-width="0.45" />
<line x1="496.1" y1="101.5" x2="496.1" y2="103.0" stroke="#a9bfe3" stroke-width="0.45" />
<line x1="497.9" y1="101.5" x2="497.9" y2="103.0" stroke="#a9bfe3" stroke-width="0.45" />
<line x1="499.7" y1="101.5" x2="499.7" y2="104.1" stroke="#a9bfe3" stroke-width="0.45" />
<line x1="501.5" y1="101.5" x2="501.5" y2="103.0" stroke="#a9bfe3" stroke-width="0.45" />
<rect x="457.2" y="105.685" width="4.5" height="0.9" fill="#9db4dc" stroke="none" stroke-width="1" opacity="0.8"/>
<rect x="466.7" y="105.685" width="4.5" height="0.9" fill="#9db4dc" stroke="none" stroke-width="1" opacity="0.8"/>
<rect x="476.2" y="105.685" width="4.5" height="0.9" fill="#9db4dc" stroke="none" stroke-width="1" opacity="0.8"/>
<rect x="485.7" y="105.685" width="4.5" height="0.9" fill="#9db4dc" stroke="none" stroke-width="1" opacity="0.8"/>
<rect x="495.2" y="105.685" width="4.5" height="0.9" fill="#9db4dc" stroke="none" stroke-width="1" opacity="0.8"/>
<g filter="url(#fLump)">
<ellipse cx="462.4" cy="93.8" rx="3.6" ry="3.2" fill="url(#gTumor)"/>
<ellipse cx="478" cy="93.8" rx="4.5" ry="3.6" fill="url(#gTumor)"/>
<ellipse cx="494" cy="94.3" rx="3.3" ry="3.0" fill="url(#gTumor)"/>
</g>
</g>
<rect x="453.2" y="85.6" width="49.7" height="24.0" fill="none" stroke="#303030" stroke-width="1.1" />
<clipPath id="phc6"><rect x="505.2" y="85.6" width="47.7" height="24.0"/></clipPath>
<g clip-path="url(#phc6)">
<rect x="505.2" y="85.6" width="47.7" height="24.0" fill="url(#gPeach)" stroke="none" stroke-width="1" />
<rect x="505.2" y="100.9" width="47.69999999999999" height="10.699999999999989"  fill="url(#gRuler)"/>
<line x1="506.7" y1="101.5" x2="506.7" y2="104.1" stroke="#a9bfe3" stroke-width="0.45" />
<line x1="508.5" y1="101.5" x2="508.5" y2="103.0" stroke="#a9bfe3" stroke-width="0.45" />
<line x1="510.3" y1="101.5" x2="510.3" y2="103.0" stroke="#a9bfe3" stroke-width="0.45" />
<line x1="512.1" y1="101.5" x2="512.1" y2="103.0" stroke="#a9bfe3" stroke-width="0.45" />
<line x1="513.9" y1="101.5" x2="513.9" y2="103.0" stroke="#a9bfe3" stroke-width="0.45" />
<line x1="515.7" y1="101.5" x2="515.7" y2="104.1" stroke="#a9bfe3" stroke-width="0.45" />
<line x1="517.5" y1="101.5" x2="517.5" y2="103.0" stroke="#a9bfe3" stroke-width="0.45" />
<line x1="519.3" y1="101.5" x2="519.3" y2="103.0" stroke="#a9bfe3" stroke-width="0.45" />
<line x1="521.1" y1="101.5" x2="521.1" y2="103.0" stroke="#a9bfe3" stroke-width="0.45" />
<line x1="522.9" y1="101.5" x2="522.9" y2="103.0" stroke="#a9bfe3" stroke-width="0.45" />
<line x1="524.7" y1="101.5" x2="524.7" y2="104.1" stroke="#a9bfe3" stroke-width="0.45" />
<line x1="526.5" y1="101.5" x2="526.5" y2="103.0" stroke="#a9bfe3" stroke-width="0.45" />
<line x1="528.3" y1="101.5" x2="528.3" y2="103.0" stroke="#a9bfe3" stroke-width="0.45" />
<line x1="530.1" y1="101.5" x2="530.1" y2="103.0" stroke="#a9bfe3" stroke-width="0.45" />
<line x1="531.9" y1="101.5" x2="531.9" y2="103.0" stroke="#a9bfe3" stroke-width="0.45" />
<line x1="533.7" y1="101.5" x2="533.7" y2="104.1" stroke="#a9bfe3" stroke-width="0.45" />
<line x1="535.5" y1="101.5" x2="535.5" y2="103.0" stroke="#a9bfe3" stroke-width="0.45" />
<line x1="537.3" y1="101.5" x2="537.3" y2="103.0" stroke="#a9bfe3" stroke-width="0.45" />
<line x1="539.1" y1="101.5" x2="539.1" y2="103.0" stroke="#a9bfe3" stroke-width="0.45" />
<line x1="540.9" y1="101.5" x2="540.9" y2="103.0" stroke="#a9bfe3" stroke-width="0.45" />
<line x1="542.7" y1="101.5" x2="542.7" y2="104.1" stroke="#a9bfe3" stroke-width="0.45" />
<line x1="544.5" y1="101.5" x2="544.5" y2="103.0" stroke="#a9bfe3" stroke-width="0.45" />
<line x1="546.3" y1="101.5" x2="546.3" y2="103.0" stroke="#a9bfe3" stroke-width="0.45" />
<line x1="548.1" y1="101.5" x2="548.1" y2="103.0" stroke="#a9bfe3" stroke-width="0.45" />
<line x1="549.9" y1="101.5" x2="549.9" y2="103.0" stroke="#a9bfe3" stroke-width="0.45" />
<line x1="551.7" y1="101.5" x2="551.7" y2="104.1" stroke="#a9bfe3" stroke-width="0.45" />
<rect x="509.2" y="105.685" width="4.5" height="0.9" fill="#9db4dc" stroke="none" stroke-width="1" opacity="0.8"/>
<rect x="518.7" y="105.685" width="4.5" height="0.9" fill="#9db4dc" stroke="none" stroke-width="1" opacity="0.8"/>
<rect x="528.2" y="105.685" width="4.5" height="0.9" fill="#9db4dc" stroke="none" stroke-width="1" opacity="0.8"/>
<rect x="537.7" y="105.685" width="4.5" height="0.9" fill="#9db4dc" stroke="none" stroke-width="1" opacity="0.8"/>
<rect x="547.2" y="105.685" width="4.5" height="0.9" fill="#9db4dc" stroke="none" stroke-width="1" opacity="0.8"/>
<g filter="url(#fLump)">
<ellipse cx="513.2" cy="92.8" rx="5.8" ry="5.2" fill="url(#gTumor)"/>
<ellipse cx="529.7" cy="93.5" rx="3.8" ry="3.6" fill="url(#gTumor)"/>
<ellipse cx="545.6" cy="93.5" rx="4.8" ry="4.6" fill="url(#gTumor)"/>
</g>
</g>
<rect x="505.2" y="85.6" width="47.7" height="24.0" fill="none" stroke="#303030" stroke-width="1.1" />
<line x1="599.4" y1="22.1" x2="599.4" y2="105.8" stroke="#2a2a2a" stroke-width="1.0" />
<line x1="596.0" y1="105.3" x2="646.2" y2="105.3" stroke="#2a2a2a" stroke-width="1.0" />
<line x1="596.0" y1="105.3" x2="599.4" y2="105.3" stroke="#2a2a2a" stroke-width="1.0" />
<text x="594.8" y="108.35" font-size="9.5" text-anchor="end" fill="#1a1a1a" stroke="#1a1a1a" stroke-width="0.14" >0</text>
<line x1="596.0" y1="77.6" x2="599.4" y2="77.6" stroke="#2a2a2a" stroke-width="1.0" />
<text x="594.8" y="80.64999999999999" font-size="9.5" text-anchor="end" fill="#1a1a1a" stroke="#1a1a1a" stroke-width="0.14" >100</text>
<line x1="596.0" y1="49.8" x2="599.4" y2="49.8" stroke="#2a2a2a" stroke-width="1.0" />
<text x="594.8" y="52.849999999999994" font-size="9.5" text-anchor="end" fill="#1a1a1a" stroke="#1a1a1a" stroke-width="0.14" >200</text>
<line x1="596.0" y1="22.1" x2="599.4" y2="22.1" stroke="#2a2a2a" stroke-width="1.0" />
<text x="594.8" y="25.150000000000002" font-size="9.5" text-anchor="end" fill="#1a1a1a" stroke="#1a1a1a" stroke-width="0.14" >300</text>
<line x1="611.8" y1="105.3" x2="611.8" y2="109.8" stroke="#2a2a2a" stroke-width="1.0" />
<line x1="635.0" y1="105.3" x2="635.0" y2="109.8" stroke="#2a2a2a" stroke-width="1.0" />
<circle cx="611.8" cy="34.6" r="1.95" fill="#111"/>
<circle cx="611.8" cy="43.7" r="1.95" fill="#111"/>
<circle cx="611.8" cy="58.4" r="1.95" fill="#111"/>
<circle cx="611.8" cy="68.5" r="1.95" fill="#111"/>
<circle cx="611.8" cy="80.7" r="1.95" fill="#111"/>
<line x1="604.1999999999999" y1="57.4" x2="619.4" y2="57.4" stroke="#111" stroke-width="1.1" />
<line x1="611.8" y1="65.1" x2="611.8" y2="48.7" stroke="#111" stroke-width="1.1" />
<line x1="608.1999999999999" y1="65.1" x2="615.4" y2="65.1" stroke="#111" stroke-width="1.1" />
<line x1="608.1999999999999" y1="48.7" x2="615.4" y2="48.7" stroke="#111" stroke-width="1.1" />
<circle cx="635" cy="38.2" r="1.95" fill="#1a22e0"/>
<circle cx="631.4" cy="46.7" r="1.95" fill="#1a22e0"/>
<circle cx="638" cy="47.5" r="1.95" fill="#1a22e0"/>
<circle cx="631.4" cy="76.6" r="1.95" fill="#1a22e0"/>
<circle cx="638" cy="76.6" r="1.95" fill="#1a22e0"/>
<circle cx="635" cy="80.7" r="1.95" fill="#1a22e0"/>
<line x1="627.4" y1="61.5" x2="642.6" y2="61.5" stroke="#1a22e0" stroke-width="1.1" />
<line x1="635.0" y1="69.1" x2="635.0" y2="53.4" stroke="#1a22e0" stroke-width="1.1" />
<line x1="631.4" y1="69.1" x2="638.6" y2="69.1" stroke="#1a22e0" stroke-width="1.1" />
<line x1="631.4" y1="53.4" x2="638.6" y2="53.4" stroke="#1a22e0" stroke-width="1.1" />
<polyline points="611.8,26.1 611.8,21.7 635.0,21.7 635.0,26.1" fill="none" stroke="#2a2a2a" stroke-width="1.0"/>
<text x="623.2" y="16.2" font-size="10.5" text-anchor="middle" fill="#1a1a1a" stroke="#1a1a1a" stroke-width="0.14" >ns</text>
<text x="568.8" y="62.1" font-size="10.4" text-anchor="middle" fill="#1a1a1a" transform="rotate(-90 568.8 62.1)" stroke="#1a1a1a" stroke-width="0.14" >Tumor weight (mg)</text>
<text x="614.8" y="116.3" font-size="9.3" text-anchor="end" fill="#1a1a1a" transform="rotate(-45 614.8 116.3)" stroke="#1a1a1a" stroke-width="0.14" >sgScramble</text>
<text x="638.0" y="116.3" font-size="9.3" text-anchor="end" fill="#1a1a1a" transform="rotate(-45 638.0 116.3)" stroke="#1a1a1a" stroke-width="0.14" >sgKRT19</text>
<text x="0" y="0" font-size="18.2" fill="#111" stroke="#111" stroke-width="0.45" transform="translate(5.1 166.3) scale(0.95 1)">D</text>
<text x="85.2" y="166.2" font-size="11.4" text-anchor="start" fill="#1a1a1a" stroke="#1a1a1a" stroke-width="0.14" >IFNARI<tspan font-size="7.2" dy="-3.0">-/-</tspan></text>
<line x1="85.2" y1="168.39999999999998" x2="130.5" y2="168.39999999999998" stroke="#2a2a2a" stroke-width="1.0" />
<line x1="52.4" y1="184.7" x2="52.4" y2="248.2" stroke="#2a2a2a" stroke-width="1.0" />
<line x1="48.1" y1="247.7" x2="94.9" y2="247.7" stroke="#2a2a2a" stroke-width="1.0" />
<line x1="48.1" y1="247.7" x2="52.4" y2="247.7" stroke="#2a2a2a" stroke-width="1.0" />
<text x="0" y="0" font-size="8.6" text-anchor="end" fill="#1a1a1a" transform="translate(46.9 250.75) scale(0.88 1)" stroke="#1a1a1a" stroke-width="0.14" >0.00</text>
<line x1="48.1" y1="232.0" x2="52.4" y2="232.0" stroke="#2a2a2a" stroke-width="1.0" />
<text x="0" y="0" font-size="8.6" text-anchor="end" fill="#1a1a1a" transform="translate(46.9 235.05) scale(0.88 1)" stroke="#1a1a1a" stroke-width="0.14" >0.05</text>
<line x1="48.1" y1="216.2" x2="52.4" y2="216.2" stroke="#2a2a2a" stroke-width="1.0" />
<text x="0" y="0" font-size="8.6" text-anchor="end" fill="#1a1a1a" transform="translate(46.9 219.25) scale(0.88 1)" stroke="#1a1a1a" stroke-width="0.14" >0.10</text>
<line x1="48.1" y1="200.5" x2="52.4" y2="200.5" stroke="#2a2a2a" stroke-width="1.0" />
<text x="0" y="0" font-size="8.6" text-anchor="end" fill="#1a1a1a" transform="translate(46.9 203.55) scale(0.88 1)" stroke="#1a1a1a" stroke-width="0.14" >0.15</text>
<line x1="48.1" y1="184.7" x2="52.4" y2="184.7" stroke="#2a2a2a" stroke-width="1.0" />
<text x="0" y="0" font-size="8.6" text-anchor="end" fill="#1a1a1a" transform="translate(46.9 187.75) scale(0.88 1)" stroke="#1a1a1a" stroke-width="0.14" >0.20</text>
<line x1="64.5" y1="247.7" x2="64.5" y2="252.2" stroke="#2a2a2a" stroke-width="1.0" />
<line x1="82.4" y1="247.7" x2="82.4" y2="252.2" stroke="#2a2a2a" stroke-width="1.0" />
<circle cx="64.6" cy="222.8" r="1.9" fill="#111"/>
<circle cx="60.6" cy="239.2" r="1.9" fill="#111"/>
<circle cx="68.6" cy="236.6" r="1.9" fill="#111"/>
<line x1="58.5" y1="233.1" x2="70.5" y2="233.1" stroke="#111" stroke-width="1.1" />
<line x1="64.5" y1="238.4" x2="64.5" y2="227.6" stroke="#111" stroke-width="1.1" />
<line x1="61.9" y1="238.4" x2="67.1" y2="238.4" stroke="#111" stroke-width="1.1" />
<line x1="61.9" y1="227.6" x2="67.1" y2="227.6" stroke="#111" stroke-width="1.1" />
<circle cx="78.2" cy="204.1" r="1.9" fill="#1a22e0"/>
<circle cx="86.6" cy="207.3" r="1.9" fill="#1a22e0"/>
<circle cx="82.4" cy="216.8" r="1.9" fill="#1a22e0"/>
<line x1="76.4" y1="209.2" x2="88.4" y2="209.2" stroke="#111" stroke-width="1.1" />
<line x1="82.4" y1="213.4" x2="82.4" y2="205.4" stroke="#111" stroke-width="1.1" />
<line x1="79.80000000000001" y1="213.4" x2="85.0" y2="213.4" stroke="#111" stroke-width="1.1" />
<line x1="79.80000000000001" y1="205.4" x2="85.0" y2="205.4" stroke="#111" stroke-width="1.1" />
<polyline points="64.5,187.2 64.5,180.0 82.4,180.0 82.4,187.2" fill="none" stroke="#2a2a2a" stroke-width="1.0"/>
<path d="M73.40,169.45 L73.40,174.95 M71.02,170.82 L75.78,173.57 M75.78,170.82 L71.02,173.57 " stroke="#111" stroke-width="1.25" stroke-linecap="butt" fill="none"/>
<text x="26.2" y="217.2" font-size="8.35" text-anchor="middle" fill="#1a1a1a" transform="rotate(-90 26.2 217.2)" stroke="#1a1a1a" stroke-width="0.14" >NKT cells (% singlets)</text>
<text x="67.1" y="258.3" font-size="7.9" text-anchor="end" fill="#1a1a1a" transform="rotate(-45 67.1 258.3)" stroke="#1a1a1a" stroke-width="0.14" >sgScramble</text>
<text x="85.0" y="258.3" font-size="7.9" text-anchor="end" fill="#1a1a1a" transform="rotate(-45 85.0 258.3)" stroke="#1a1a1a" stroke-width="0.14" >sgKRT19</text>
<line x1="132.0" y1="184.5" x2="132.0" y2="248.0" stroke="#2a2a2a" stroke-width="1.0" />
<line x1="127.7" y1="247.5" x2="174.3" y2="247.5" stroke="#2a2a2a" stroke-width="1.0" />
<line x1="127.7" y1="247.5" x2="132.0" y2="247.5" stroke="#2a2a2a" stroke-width="1.0" />
<text x="0" y="0" font-size="8.6" text-anchor="end" fill="#1a1a1a" transform="translate(126.5 250.55) scale(0.88 1)" stroke="#1a1a1a" stroke-width="0.14" >0.0</text>
<line x1="127.7" y1="231.7" x2="132.0" y2="231.7" stroke="#2a2a2a" stroke-width="1.0" />
<text x="0" y="0" font-size="8.6" text-anchor="end" fill="#1a1a1a" transform="translate(126.5 234.75) scale(0.88 1)" stroke="#1a1a1a" stroke-width="0.14" >0.1</text>
<line x1="127.7" y1="216.0" x2="132.0" y2="216.0" stroke="#2a2a2a" stroke-width="1.0" />
<text x="0" y="0" font-size="8.6" text-anchor="end" fill="#1a1a1a" transform="translate(126.5 219.05) scale(0.88 1)" stroke="#1a1a1a" stroke-width="0.14" >0.2</text>
<line x1="127.7" y1="200.3" x2="132.0" y2="200.3" stroke="#2a2a2a" stroke-width="1.0" />
<text x="0" y="0" font-size="8.6" text-anchor="end" fill="#1a1a1a" transform="translate(126.5 203.35000000000002) scale(0.88 1)" stroke="#1a1a1a" stroke-width="0.14" >0.3</text>
<line x1="127.7" y1="184.5" x2="132.0" y2="184.5" stroke="#2a2a2a" stroke-width="1.0" />
<text x="0" y="0" font-size="8.6" text-anchor="end" fill="#1a1a1a" transform="translate(126.5 187.55) scale(0.88 1)" stroke="#1a1a1a" stroke-width="0.14" >0.4</text>
<line x1="143.7" y1="247.5" x2="143.7" y2="252.0" stroke="#2a2a2a" stroke-width="1.0" />
<line x1="161.6" y1="247.5" x2="161.6" y2="252.0" stroke="#2a2a2a" stroke-width="1.0" />
<circle cx="143.7" cy="217.5" r="1.9" fill="#111"/>
<circle cx="143.7" cy="228.6" r="1.9" fill="#111"/>
<circle cx="143.7" cy="234.2" r="1.9" fill="#111"/>
<line x1="137.7" y1="226.5" x2="149.7" y2="226.5" stroke="#111" stroke-width="1.1" />
<line x1="143.7" y1="231.6" x2="143.7" y2="221.4" stroke="#111" stroke-width="1.1" />
<line x1="141.1" y1="231.6" x2="146.29999999999998" y2="231.6" stroke="#111" stroke-width="1.1" />
<line x1="141.1" y1="221.4" x2="146.29999999999998" y2="221.4" stroke="#111" stroke-width="1.1" />
<circle cx="157.3" cy="208.2" r="1.9" fill="#1a22e0"/>
<circle cx="161.6" cy="205.3" r="1.9" fill="#1a22e0"/>
<circle cx="165.8" cy="208.3" r="1.9" fill="#1a22e0"/>
<line x1="155.6" y1="207.5" x2="167.6" y2="207.5" stroke="#111" stroke-width="1.1" />
<line x1="161.6" y1="209.5" x2="161.6" y2="205.8" stroke="#111" stroke-width="1.1" />
<line x1="159.0" y1="209.5" x2="164.2" y2="209.5" stroke="#111" stroke-width="1.1" />
<line x1="159.0" y1="205.8" x2="164.2" y2="205.8" stroke="#111" stroke-width="1.1" />
<polyline points="143.7,187.2 143.7,180.1 161.6,180.1 161.6,187.2" fill="none" stroke="#2a2a2a" stroke-width="1.0"/>
<path d="M152.60,169.45 L152.60,174.95 M150.22,170.82 L154.98,173.57 M154.98,170.82 L150.22,173.57 " stroke="#111" stroke-width="1.25" stroke-linecap="butt" fill="none"/>
<text x="108.5" y="217.0" font-size="8.35" text-anchor="middle" fill="#1a1a1a" transform="rotate(-90 108.5 217.0)" stroke="#1a1a1a" stroke-width="0.14" >NKT cells (% CD45<tspan font-size="5.177" dy="-3.2">+</tspan><tspan dy="3.2">)</tspan></text>
<text x="146.29999999999998" y="258.1" font-size="7.9" text-anchor="end" fill="#1a1a1a" transform="rotate(-45 146.29999999999998 258.1)" stroke="#1a1a1a" stroke-width="0.14" >sgScramble</text>
<text x="164.2" y="258.1" font-size="7.9" text-anchor="end" fill="#1a1a1a" transform="rotate(-45 164.2 258.1)" stroke="#1a1a1a" stroke-width="0.14" >sgKRT19</text>
<text x="0" y="0" font-size="18.2" fill="#111" stroke="#111" stroke-width="0.45" transform="translate(183.3 166.3) scale(0.95 1)">E</text>
<text x="256.3" y="166.2" font-size="11.4" text-anchor="start" fill="#1a1a1a" stroke="#1a1a1a" stroke-width="0.14" >IFNARI<tspan font-size="7.2" dy="-3.0">-/-</tspan></text>
<line x1="256.3" y1="168.39999999999998" x2="301.6" y2="168.39999999999998" stroke="#2a2a2a" stroke-width="1.0" />
<line x1="223.4" y1="184.5" x2="223.4" y2="248.2" stroke="#2a2a2a" stroke-width="1.0" />
<line x1="219.1" y1="247.7" x2="265.7" y2="247.7" stroke="#2a2a2a" stroke-width="1.0" />
<line x1="219.1" y1="247.7" x2="223.4" y2="247.7" stroke="#2a2a2a" stroke-width="1.0" />
<text x="0" y="0" font-size="8.6" text-anchor="end" fill="#1a1a1a" transform="translate(217.9 250.75) scale(0.88 1)" stroke="#1a1a1a" stroke-width="0.14" >0</text>
<line x1="219.1" y1="226.8" x2="223.4" y2="226.8" stroke="#2a2a2a" stroke-width="1.0" />
<text x="0" y="0" font-size="8.6" text-anchor="end" fill="#1a1a1a" transform="translate(217.9 229.85000000000002) scale(0.88 1)" stroke="#1a1a1a" stroke-width="0.14" >2</text>
<line x1="219.1" y1="205.6" x2="223.4" y2="205.6" stroke="#2a2a2a" stroke-width="1.0" />
<text x="0" y="0" font-size="8.6" text-anchor="end" fill="#1a1a1a" transform="translate(217.9 208.65) scale(0.88 1)" stroke="#1a1a1a" stroke-width="0.14" >4</text>
<line x1="219.1" y1="184.5" x2="223.4" y2="184.5" stroke="#2a2a2a" stroke-width="1.0" />
<text x="0" y="0" font-size="8.6" text-anchor="end" fill="#1a1a1a" transform="translate(217.9 187.55) scale(0.88 1)" stroke="#1a1a1a" stroke-width="0.14" >6</text>
<line x1="235.5" y1="247.7" x2="235.5" y2="252.2" stroke="#2a2a2a" stroke-width="1.0" />
<line x1="253.5" y1="247.7" x2="253.5" y2="252.2" stroke="#2a2a2a" stroke-width="1.0" />
<circle cx="231.7" cy="229.1" r="1.9" fill="#111"/>
<circle cx="231.7" cy="234.9" r="1.9" fill="#111"/>
<circle cx="240.2" cy="231.1" r="1.9" fill="#111"/>
<line x1="229.5" y1="232.0" x2="241.5" y2="232.0" stroke="#111" stroke-width="1.1" />
<line x1="235.5" y1="233.7" x2="235.5" y2="229.8" stroke="#111" stroke-width="1.1" />
<line x1="232.9" y1="233.7" x2="238.1" y2="233.7" stroke="#111" stroke-width="1.1" />
<line x1="232.9" y1="229.8" x2="238.1" y2="229.8" stroke="#111" stroke-width="1.1" />
<circle cx="254.1" cy="200.2" r="1.9" fill="#1a22e0"/>
<circle cx="249.9" cy="209.4" r="1.9" fill="#1a22e0"/>
<circle cx="257.9" cy="207.0" r="1.9" fill="#1a22e0"/>
<line x1="247.5" y1="205.6" x2="259.5" y2="205.6" stroke="#111" stroke-width="1.1" />
<line x1="253.5" y1="208.7" x2="253.5" y2="202.2" stroke="#111" stroke-width="1.1" />
<line x1="250.9" y1="208.7" x2="256.1" y2="208.7" stroke="#111" stroke-width="1.1" />
<line x1="250.9" y1="202.2" x2="256.1" y2="202.2" stroke="#111" stroke-width="1.1" />
<polyline points="235.5,187.2 235.5,180.4 253.5,180.4 253.5,187.2" fill="none" stroke="#2a2a2a" stroke-width="1.0"/>
<path d="M241.35,169.25 L241.35,174.75 M238.97,170.62 L243.73,173.38 M243.73,170.62 L238.97,173.38 " stroke="#111" stroke-width="1.25" stroke-linecap="butt" fill="none"/>
<path d="M247.55,169.25 L247.55,174.75 M245.17,170.62 L249.93,173.38 M249.93,170.62 L245.17,173.38 " stroke="#111" stroke-width="1.25" stroke-linecap="butt" fill="none"/>
<text x="206.0" y="217.1" font-size="8.35" text-anchor="middle" fill="#1a1a1a" transform="rotate(-90 206.0 217.1)" stroke="#1a1a1a" stroke-width="0.14" >NK cells (% singlets)</text>
<text x="238.1" y="258.3" font-size="7.9" text-anchor="end" fill="#1a1a1a" transform="rotate(-45 238.1 258.3)" stroke="#1a1a1a" stroke-width="0.14" >sgScramble</text>
<text x="256.1" y="258.3" font-size="7.9" text-anchor="end" fill="#1a1a1a" transform="rotate(-45 256.1 258.3)" stroke="#1a1a1a" stroke-width="0.14" >sgKRT19</text>
<line x1="297.1" y1="184.5" x2="297.1" y2="248.2" stroke="#2a2a2a" stroke-width="1.0" />
<line x1="292.8" y1="247.7" x2="339.8" y2="247.7" stroke="#2a2a2a" stroke-width="1.0" />
<line x1="292.8" y1="247.7" x2="297.1" y2="247.7" stroke="#2a2a2a" stroke-width="1.0" />
<text x="0" y="0" font-size="8.6" text-anchor="end" fill="#1a1a1a" transform="translate(291.6 250.75) scale(0.88 1)" stroke="#1a1a1a" stroke-width="0.14" >0</text>
<line x1="292.8" y1="226.8" x2="297.1" y2="226.8" stroke="#2a2a2a" stroke-width="1.0" />
<text x="0" y="0" font-size="8.6" text-anchor="end" fill="#1a1a1a" transform="translate(291.6 229.85000000000002) scale(0.88 1)" stroke="#1a1a1a" stroke-width="0.14" >5</text>
<line x1="292.8" y1="205.6" x2="297.1" y2="205.6" stroke="#2a2a2a" stroke-width="1.0" />
<text x="0" y="0" font-size="8.6" text-anchor="end" fill="#1a1a1a" transform="translate(291.6 208.65) scale(0.88 1)" stroke="#1a1a1a" stroke-width="0.14" >10</text>
<line x1="292.8" y1="184.5" x2="297.1" y2="184.5" stroke="#2a2a2a" stroke-width="1.0" />
<text x="0" y="0" font-size="8.6" text-anchor="end" fill="#1a1a1a" transform="translate(291.6 187.55) scale(0.88 1)" stroke="#1a1a1a" stroke-width="0.14" >15</text>
<line x1="309.6" y1="247.7" x2="309.6" y2="252.2" stroke="#2a2a2a" stroke-width="1.0" />
<line x1="327.4" y1="247.7" x2="327.4" y2="252.2" stroke="#2a2a2a" stroke-width="1.0" />
<circle cx="310.1" cy="225.2" r="1.9" fill="#111"/>
<circle cx="305.6" cy="231.1" r="1.9" fill="#111"/>
<circle cx="313.8" cy="229.8" r="1.9" fill="#111"/>
<line x1="303.6" y1="229.1" x2="315.6" y2="229.1" stroke="#111" stroke-width="1.1" />
<line x1="309.6" y1="231.1" x2="309.6" y2="226.9" stroke="#111" stroke-width="1.1" />
<line x1="307.0" y1="231.1" x2="312.20000000000005" y2="231.1" stroke="#111" stroke-width="1.1" />
<line x1="307.0" y1="226.9" x2="312.20000000000005" y2="226.9" stroke="#111" stroke-width="1.1" />
<circle cx="327.4" cy="206.5" r="1.9" fill="#1a22e0"/>
<circle cx="327.4" cy="211.0" r="1.9" fill="#1a22e0"/>
<circle cx="327.4" cy="217.5" r="1.9" fill="#1a22e0"/>
<line x1="321.4" y1="211.6" x2="333.4" y2="211.6" stroke="#111" stroke-width="1.1" />
<line x1="327.4" y1="215.0" x2="327.4" y2="208.2" stroke="#111" stroke-width="1.1" />
<line x1="324.79999999999995" y1="215.0" x2="330.0" y2="215.0" stroke="#111" stroke-width="1.1" />
<line x1="324.79999999999995" y1="208.2" x2="330.0" y2="208.2" stroke="#111" stroke-width="1.1" />
<polyline points="309.6,187.2 309.6,180.4 327.4,180.4 327.4,187.2" fill="none" stroke="#2a2a2a" stroke-width="1.0"/>
<path d="M318.50,169.45 L318.50,174.95 M316.12,170.82 L320.88,173.57 M320.88,170.82 L316.12,173.57 " stroke="#111" stroke-width="1.25" stroke-linecap="butt" fill="none"/>
<text x="279.5" y="217.1" font-size="8.35" text-anchor="middle" fill="#1a1a1a" transform="rotate(-90 279.5 217.1)" stroke="#1a1a1a" stroke-width="0.14" >NK cells (% CD45<tspan font-size="5.177" dy="-3.2">+</tspan><tspan dy="3.2">)</tspan></text>
<text x="312.20000000000005" y="258.3" font-size="7.9" text-anchor="end" fill="#1a1a1a" transform="rotate(-45 312.20000000000005 258.3)" stroke="#1a1a1a" stroke-width="0.14" >sgScramble</text>
<text x="330.0" y="258.3" font-size="7.9" text-anchor="end" fill="#1a1a1a" transform="rotate(-45 330.0 258.3)" stroke="#1a1a1a" stroke-width="0.14" >sgKRT19</text>
<text x="0" y="0" font-size="18.2" fill="#111" stroke="#111" stroke-width="0.45" transform="translate(350.9 166.3) scale(0.95 1)">F</text>
<text x="419.5" y="165.6" font-size="11.4" text-anchor="start" fill="#1a1a1a" stroke="#1a1a1a" stroke-width="0.14" >IFNARI<tspan font-size="7.2" dy="-3.0">-/-</tspan></text>
<line x1="419.5" y1="167.79999999999998" x2="464.5" y2="167.79999999999998" stroke="#2a2a2a" stroke-width="1.0" />
<line x1="392.3" y1="184.3" x2="392.3" y2="246.9" stroke="#2a2a2a" stroke-width="1.0" />
<line x1="388.0" y1="246.4" x2="433.7" y2="246.4" stroke="#2a2a2a" stroke-width="1.0" />
<line x1="388.0" y1="246.4" x2="392.3" y2="246.4" stroke="#2a2a2a" stroke-width="1.0" />
<text x="0" y="0" font-size="8.6" text-anchor="end" fill="#1a1a1a" transform="translate(386.8 249.45000000000002) scale(0.88 1)" stroke="#1a1a1a" stroke-width="0.14" >0</text>
<line x1="388.0" y1="234.0" x2="392.3" y2="234.0" stroke="#2a2a2a" stroke-width="1.0" />
<text x="0" y="0" font-size="8.6" text-anchor="end" fill="#1a1a1a" transform="translate(386.8 237.05) scale(0.88 1)" stroke="#1a1a1a" stroke-width="0.14" >2</text>
<line x1="388.0" y1="221.6" x2="392.3" y2="221.6" stroke="#2a2a2a" stroke-width="1.0" />
<text x="0" y="0" font-size="8.6" text-anchor="end" fill="#1a1a1a" transform="translate(386.8 224.65) scale(0.88 1)" stroke="#1a1a1a" stroke-width="0.14" >4</text>
<line x1="388.0" y1="209.2" x2="392.3" y2="209.2" stroke="#2a2a2a" stroke-width="1.0" />
<text x="0" y="0" font-size="8.6" text-anchor="end" fill="#1a1a1a" transform="translate(386.8 212.25) scale(0.88 1)" stroke="#1a1a1a" stroke-width="0.14" >6</text>
<line x1="388.0" y1="196.8" x2="392.3" y2="196.8" stroke="#2a2a2a" stroke-width="1.0" />
<text x="0" y="0" font-size="8.6" text-anchor="end" fill="#1a1a1a" transform="translate(386.8 199.85000000000002) scale(0.88 1)" stroke="#1a1a1a" stroke-width="0.14" >8</text>
<line x1="388.0" y1="184.3" x2="392.3" y2="184.3" stroke="#2a2a2a" stroke-width="1.0" />
<text x="0" y="0" font-size="8.6" text-anchor="end" fill="#1a1a1a" transform="translate(386.8 187.35000000000002) scale(0.88 1)" stroke="#1a1a1a" stroke-width="0.14" >10</text>
<line x1="404.1" y1="246.4" x2="404.1" y2="250.9" stroke="#2a2a2a" stroke-width="1.0" />
<line x1="422.3" y1="246.4" x2="422.3" y2="250.9" stroke="#2a2a2a" stroke-width="1.0" />
<circle cx="404.1" cy="225.0" r="1.9" fill="#111"/>
<circle cx="400.3" cy="231.5" r="1.9" fill="#111"/>
<circle cx="408.3" cy="229.2" r="1.9" fill="#111"/>
<line x1="398.1" y1="229.0" x2="410.1" y2="229.0" stroke="#111" stroke-width="1.1" />
<line x1="404.1" y1="231.5" x2="404.1" y2="227.0" stroke="#111" stroke-width="1.1" />
<line x1="401.5" y1="231.5" x2="406.70000000000005" y2="231.5" stroke="#111" stroke-width="1.1" />
<line x1="401.5" y1="227.0" x2="406.70000000000005" y2="227.0" stroke="#111" stroke-width="1.1" />
<circle cx="422.3" cy="208.8" r="1.9" fill="#1a22e0"/>
<circle cx="422.3" cy="219.3" r="1.9" fill="#1a22e0"/>
<circle cx="422.3" cy="222.6" r="1.9" fill="#1a22e0"/>
<line x1="416.3" y1="216.4" x2="428.3" y2="216.4" stroke="#111" stroke-width="1.1" />
<line x1="422.3" y1="220.6" x2="422.3" y2="212.4" stroke="#111" stroke-width="1.1" />
<line x1="419.7" y1="220.6" x2="424.90000000000003" y2="220.6" stroke="#111" stroke-width="1.1" />
<line x1="419.7" y1="212.4" x2="424.90000000000003" y2="212.4" stroke="#111" stroke-width="1.1" />
<polyline points="404.1,190.1 404.1,183.8 422.3,183.8 422.3,190.1" fill="none" stroke="#2a2a2a" stroke-width="1.0"/>
<text x="413.3" y="177.6" font-size="9.3" text-anchor="middle" fill="#1a1a1a" stroke="#1a1a1a" stroke-width="0.14" >ns</text>
<text x="372.5" y="216.4" font-size="8.35" text-anchor="middle" fill="#1a1a1a" transform="rotate(-90 372.5 216.4)" stroke="#1a1a1a" stroke-width="0.14" >DCs (% singlets)</text>
<text x="406.70000000000005" y="257.0" font-size="7.9" text-anchor="end" fill="#1a1a1a" transform="rotate(-45 406.70000000000005 257.0)" stroke="#1a1a1a" stroke-width="0.14" >sgScramble</text>
<text x="424.90000000000003" y="257.0" font-size="7.9" text-anchor="end" fill="#1a1a1a" transform="rotate(-45 424.90000000000003 257.0)" stroke="#1a1a1a" stroke-width="0.14" >sgKRT19</text>
<line x1="463.4" y1="184.3" x2="463.4" y2="246.9" stroke="#2a2a2a" stroke-width="1.0" />
<line x1="459.09999999999997" y1="246.4" x2="504.9" y2="246.4" stroke="#2a2a2a" stroke-width="1.0" />
<line x1="459.09999999999997" y1="246.4" x2="463.4" y2="246.4" stroke="#2a2a2a" stroke-width="1.0" />
<text x="0" y="0" font-size="8.6" text-anchor="end" fill="#1a1a1a" transform="translate(457.9 249.45000000000002) scale(0.88 1)" stroke="#1a1a1a" stroke-width="0.14" >0</text>
<line x1="459.09999999999997" y1="225.8" x2="463.4" y2="225.8" stroke="#2a2a2a" stroke-width="1.0" />
<text x="0" y="0" font-size="8.6" text-anchor="end" fill="#1a1a1a" transform="translate(457.9 228.85000000000002) scale(0.88 1)" stroke="#1a1a1a" stroke-width="0.14" >5</text>
<line x1="459.09999999999997" y1="205.4" x2="463.4" y2="205.4" stroke="#2a2a2a" stroke-width="1.0" />
<text x="0" y="0" font-size="8.6" text-anchor="end" fill="#1a1a1a" transform="translate(457.9 208.45000000000002) scale(0.88 1)" stroke="#1a1a1a" stroke-width="0.14" >10</text>
<line x1="459.09999999999997" y1="184.3" x2="463.4" y2="184.3" stroke="#2a2a2a" stroke-width="1.0" />
<text x="0" y="0" font-size="8.6" text-anchor="end" fill="#1a1a1a" transform="translate(457.9 187.35000000000002) scale(0.88 1)" stroke="#1a1a1a" stroke-width="0.14" >15</text>
<line x1="475.3" y1="246.4" x2="475.3" y2="250.9" stroke="#2a2a2a" stroke-width="1.0" />
<line x1="493.1" y1="246.4" x2="493.1" y2="250.9" stroke="#2a2a2a" stroke-width="1.0" />
<circle cx="475.3" cy="214.5" r="1.9" fill="#111"/>
<circle cx="471.1" cy="228.3" r="1.9" fill="#111"/>
<circle cx="479.3" cy="225.0" r="1.9" fill="#111"/>
<line x1="469.3" y1="222.0" x2="481.3" y2="222.0" stroke="#111" stroke-width="1.1" />
<line x1="475.3" y1="225.4" x2="475.3" y2="218.7" stroke="#111" stroke-width="1.1" />
<line x1="472.7" y1="225.4" x2="477.90000000000003" y2="225.4" stroke="#111" stroke-width="1.1" />
<line x1="472.7" y1="218.7" x2="477.90000000000003" y2="218.7" stroke="#111" stroke-width="1.1" />
<circle cx="493.1" cy="209.2" r="1.9" fill="#1a22e0"/>
<circle cx="489.0" cy="220.6" r="1.9" fill="#1a22e0"/>
<circle cx="497.3" cy="216.8" r="1.9" fill="#1a22e0"/>
<line x1="487.1" y1="215.9" x2="499.1" y2="215.9" stroke="#111" stroke-width="1.1" />
<line x1="493.1" y1="218.7" x2="493.1" y2="213.0" stroke="#111" stroke-width="1.1" />
<line x1="490.5" y1="218.7" x2="495.70000000000005" y2="218.7" stroke="#111" stroke-width="1.1" />
<line x1="490.5" y1="213.0" x2="495.70000000000005" y2="213.0" stroke="#111" stroke-width="1.1" />
<polyline points="475.3,190.1 475.3,183.4 493.1,183.4 493.1,190.1" fill="none" stroke="#2a2a2a" stroke-width="1.0"/>
<text x="484.5" y="177.6" font-size="9.3" text-anchor="middle" fill="#1a1a1a" stroke="#1a1a1a" stroke-width="0.14" >ns</text>
<text x="446.8" y="216.4" font-size="8.35" text-anchor="middle" fill="#1a1a1a" transform="rotate(-90 446.8 216.4)" stroke="#1a1a1a" stroke-width="0.14" >DCs (% CD45<tspan font-size="5.177" dy="-3.2">+</tspan><tspan dy="3.2">)</tspan></text>
<text x="477.90000000000003" y="257.0" font-size="7.9" text-anchor="end" fill="#1a1a1a" transform="rotate(-45 477.90000000000003 257.0)" stroke="#1a1a1a" stroke-width="0.14" >sgScramble</text>
<text x="495.70000000000005" y="257.0" font-size="7.9" text-anchor="end" fill="#1a1a1a" transform="rotate(-45 495.70000000000005 257.0)" stroke="#1a1a1a" stroke-width="0.14" >sgKRT19</text>
<text x="0" y="0" font-size="18.2" fill="#111" stroke="#111" stroke-width="0.45" transform="translate(514.2 168.3) scale(0.95 1)">G</text>
<text x="582" y="163.8" font-size="11.4" text-anchor="start" fill="#1a1a1a" stroke="#1a1a1a" stroke-width="0.14" >IFNARI<tspan font-size="7.2" dy="-3.0">-/-</tspan></text>
<line x1="582" y1="166.0" x2="627" y2="166.0" stroke="#2a2a2a" stroke-width="1.0" />
<line x1="555.6" y1="186.6" x2="555.6" y2="248.8" stroke="#2a2a2a" stroke-width="1.0" />
<line x1="551.3000000000001" y1="248.3" x2="597.3" y2="248.3" stroke="#2a2a2a" stroke-width="1.0" />
<line x1="551.3000000000001" y1="248.3" x2="555.6" y2="248.3" stroke="#2a2a2a" stroke-width="1.0" />
<text x="0" y="0" font-size="8.6" text-anchor="end" fill="#1a1a1a" transform="translate(550.1 251.35000000000002) scale(0.88 1)" stroke="#1a1a1a" stroke-width="0.14" >0</text>
<line x1="551.3000000000001" y1="227.7" x2="555.6" y2="227.7" stroke="#2a2a2a" stroke-width="1.0" />
<text x="0" y="0" font-size="8.6" text-anchor="end" fill="#1a1a1a" transform="translate(550.1 230.75) scale(0.88 1)" stroke="#1a1a1a" stroke-width="0.14" >5</text>
<line x1="551.3000000000001" y1="207.3" x2="555.6" y2="207.3" stroke="#2a2a2a" stroke-width="1.0" />
<text x="0" y="0" font-size="8.6" text-anchor="end" fill="#1a1a1a" transform="translate(550.1 210.35000000000002) scale(0.88 1)" stroke="#1a1a1a" stroke-width="0.14" >10</text>
<line x1="551.3000000000001" y1="186.6" x2="555.6" y2="186.6" stroke="#2a2a2a" stroke-width="1.0" />
<text x="0" y="0" font-size="8.6" text-anchor="end" fill="#1a1a1a" transform="translate(550.1 189.65) scale(0.88 1)" stroke="#1a1a1a" stroke-width="0.14" >15</text>
<line x1="567.1" y1="248.3" x2="567.1" y2="252.8" stroke="#2a2a2a" stroke-width="1.0" />
<line x1="584.9" y1="248.3" x2="584.9" y2="252.8" stroke="#2a2a2a" stroke-width="1.0" />
<circle cx="567.1" cy="205.4" r="1.9" fill="#111"/>
<circle cx="567.1" cy="216.4" r="1.9" fill="#111"/>
<circle cx="567.1" cy="226.0" r="1.9" fill="#111"/>
<line x1="561.1" y1="216.4" x2="573.1" y2="216.4" stroke="#111" stroke-width="1.1" />
<line x1="567.1" y1="222.0" x2="567.1" y2="210.5" stroke="#111" stroke-width="1.1" />
<line x1="564.5" y1="222.0" x2="569.7" y2="222.0" stroke="#111" stroke-width="1.1" />
<line x1="564.5" y1="210.5" x2="569.7" y2="210.5" stroke="#111" stroke-width="1.1" />
<circle cx="584.9" cy="217.8" r="1.9" fill="#1a22e0"/>
<circle cx="580.9" cy="227.0" r="1.9" fill="#1a22e0"/>
<circle cx="589.1" cy="225.4" r="1.9" fill="#1a22e0"/>
<line x1="578.9" y1="223.1" x2="590.9" y2="223.1" stroke="#111" stroke-width="1.1" />
<line x1="584.9" y1="225.4" x2="584.9" y2="220.6" stroke="#111" stroke-width="1.1" />
<line x1="582.3" y1="225.4" x2="587.5" y2="225.4" stroke="#111" stroke-width="1.1" />
<line x1="582.3" y1="220.6" x2="587.5" y2="220.6" stroke="#111" stroke-width="1.1" />
<polyline points="567.1,188.7 567.1,181.8 584.9,181.8 584.9,188.7" fill="none" stroke="#2a2a2a" stroke-width="1.0"/>
<text x="575.7" y="175.4" font-size="9.3" text-anchor="middle" fill="#1a1a1a" stroke="#1a1a1a" stroke-width="0.14" >ns</text>
<text x="537.0" y="218.5" font-size="8.35" text-anchor="middle" fill="#1a1a1a" transform="rotate(-90 537.0 218.5)" stroke="#1a1a1a" stroke-width="0.14" >Gr1<tspan font-size="5.177" dy="-3.2">+</tspan><tspan dy="3.2"> MDSC (% singlets)</tspan></text>
<text x="569.7" y="258.90000000000003" font-size="7.9" text-anchor="end" fill="#1a1a1a" transform="rotate(-45 569.7 258.90000000000003)" stroke="#1a1a1a" stroke-width="0.14" >sgScramble</text>
<text x="587.5" y="258.90000000000003" font-size="7.9" text-anchor="end" fill="#1a1a1a" transform="rotate(-45 587.5 258.90000000000003)" stroke="#1a1a1a" stroke-width="0.14" >sgKRT19</text>
<line x1="632.6" y1="186.8" x2="632.6" y2="248.8" stroke="#2a2a2a" stroke-width="1.0" />
<line x1="628.3000000000001" y1="248.3" x2="673.7" y2="248.3" stroke="#2a2a2a" stroke-width="1.0" />
<line x1="628.3000000000001" y1="248.3" x2="632.6" y2="248.3" stroke="#2a2a2a" stroke-width="1.0" />
<text x="0" y="0" font-size="8.6" text-anchor="end" fill="#1a1a1a" transform="translate(627.1 251.35000000000002) scale(0.88 1)" stroke="#1a1a1a" stroke-width="0.14" >0</text>
<line x1="628.3000000000001" y1="235.9" x2="632.6" y2="235.9" stroke="#2a2a2a" stroke-width="1.0" />
<text x="0" y="0" font-size="8.6" text-anchor="end" fill="#1a1a1a" transform="translate(627.1 238.95000000000002) scale(0.88 1)" stroke="#1a1a1a" stroke-width="0.14" >5</text>
<line x1="628.3000000000001" y1="223.5" x2="632.6" y2="223.5" stroke="#2a2a2a" stroke-width="1.0" />
<text x="0" y="0" font-size="8.6" text-anchor="end" fill="#1a1a1a" transform="translate(627.1 226.55) scale(0.88 1)" stroke="#1a1a1a" stroke-width="0.14" >10</text>
<line x1="628.3000000000001" y1="211.1" x2="632.6" y2="211.1" stroke="#2a2a2a" stroke-width="1.0" />
<text x="0" y="0" font-size="8.6" text-anchor="end" fill="#1a1a1a" transform="translate(627.1 214.15) scale(0.88 1)" stroke="#1a1a1a" stroke-width="0.14" >15</text>
<line x1="628.3000000000001" y1="199.0" x2="632.6" y2="199.0" stroke="#2a2a2a" stroke-width="1.0" />
<text x="0" y="0" font-size="8.6" text-anchor="end" fill="#1a1a1a" transform="translate(627.1 202.05) scale(0.88 1)" stroke="#1a1a1a" stroke-width="0.14" >20</text>
<line x1="628.3000000000001" y1="186.8" x2="632.6" y2="186.8" stroke="#2a2a2a" stroke-width="1.0" />
<text x="0" y="0" font-size="8.6" text-anchor="end" fill="#1a1a1a" transform="translate(627.1 189.85000000000002) scale(0.88 1)" stroke="#1a1a1a" stroke-width="0.14" >25</text>
<line x1="643.7" y1="248.3" x2="643.7" y2="252.8" stroke="#2a2a2a" stroke-width="1.0" />
<line x1="661.3" y1="248.3" x2="661.3" y2="252.8" stroke="#2a2a2a" stroke-width="1.0" />
<circle cx="643.7" cy="197.7" r="1.9" fill="#111"/>
<circle cx="643.7" cy="199.6" r="1.9" fill="#111"/>
<circle cx="643.7" cy="202.1" r="1.9" fill="#111"/>
<circle cx="643.7" cy="227.7" r="1.9" fill="#111"/>
<line x1="637.7" y1="209.6" x2="649.7" y2="209.6" stroke="#111" stroke-width="1.1" />
<line x1="643.7" y1="218.7" x2="643.7" y2="197.7" stroke="#111" stroke-width="1.1" />
<line x1="641.1" y1="218.7" x2="646.3000000000001" y2="218.7" stroke="#111" stroke-width="1.1" />
<line x1="641.1" y1="197.7" x2="646.3000000000001" y2="197.7" stroke="#111" stroke-width="1.1" />
<circle cx="661.3" cy="218.7" r="1.9" fill="#1a22e0"/>
<circle cx="657.9" cy="228.3" r="1.9" fill="#1a22e0"/>
<circle cx="666.1" cy="227.7" r="1.9" fill="#1a22e0"/>
<line x1="655.3" y1="224.5" x2="667.3" y2="224.5" stroke="#111" stroke-width="1.1" />
<line x1="661.3" y1="227.3" x2="661.3" y2="221.6" stroke="#111" stroke-width="1.1" />
<line x1="658.6999999999999" y1="227.3" x2="663.9" y2="227.3" stroke="#111" stroke-width="1.1" />
<line x1="658.6999999999999" y1="221.6" x2="663.9" y2="221.6" stroke="#111" stroke-width="1.1" />
<polyline points="643.7,189.1 643.7,182.4 661.3,182.4 661.3,189.1" fill="none" stroke="#2a2a2a" stroke-width="1.0"/>
<text x="652.7" y="175.7" font-size="9.3" text-anchor="middle" fill="#1a1a1a" stroke="#1a1a1a" stroke-width="0.14" >ns</text>
<text x="613.8" y="218.6" font-size="8.35" text-anchor="middle" fill="#1a1a1a" transform="rotate(-90 613.8 218.6)" stroke="#1a1a1a" stroke-width="0.14" >Gr1<tspan font-size="5.177" dy="-3.2">+</tspan><tspan dy="3.2"> MDSC (% CD45</tspan><tspan font-size="5.2" dy="-3.2">+</tspan><tspan dy="3.2">)</tspan></text>
<text x="646.3000000000001" y="258.90000000000003" font-size="7.9" text-anchor="end" fill="#1a1a1a" transform="rotate(-45 646.3000000000001 258.90000000000003)" stroke="#1a1a1a" stroke-width="0.14" >sgScramble</text>
<text x="663.9" y="258.90000000000003" font-size="7.9" text-anchor="end" fill="#1a1a1a" transform="rotate(-45 663.9 258.90000000000003)" stroke="#1a1a1a" stroke-width="0.14" >sgKRT19</text>
<text x="0" y="0" font-size="18.2" fill="#111" stroke="#111" stroke-width="0.45" transform="translate(3.6 306.3) scale(0.95 1)">H</text>
<text x="121.3" y="303.8" font-size="10.4" text-anchor="start" fill="#1a1a1a" stroke="#1a1a1a" stroke-width="0.14" >IFNARI<tspan font-size="6.8" dy="-3.0">-/-</tspan></text>
<line x1="32" y1="311" x2="250" y2="311" stroke="#2a2a2a" stroke-width="1.3" />
<text x="23.5" y="322.8" font-size="9.6" textLength="63.3" lengthAdjust="spacingAndGlyphs" stroke-width="0.14"><tspan fill="#2fb454" stroke="#2fb454">CD3e</tspan><tspan fill="#e81c1c" stroke="#e81c1c">/panCK</tspan><tspan fill="#2020e0" stroke="#2020e0">/DAPI</tspan></text>
<text x="113.4" y="322.8" font-size="9.3" text-anchor="middle" fill="#2fb454" stroke="#2fb454" stroke-width="0.14" >CD3e</text>
<text x="168.5" y="322.6" font-size="9.5" text-anchor="middle" fill="#e81c1c" stroke="#e81c1c" stroke-width="0.14" >panCK</text>
<text x="222.5" y="322.6" font-size="9.5" text-anchor="middle" fill="#e020e0" stroke="#e020e0" stroke-width="0.14" >KRT19</text>
<rect x="31.5" y="327.4" width="218.5" height="53.3" fill="#c4c4c4" stroke="none" stroke-width="1" />
<rect x="31.5" y="327.4" width="53.4" height="53.3" fill="#000" stroke="none" stroke-width="1" filter="url(#fMerge)"/>
<rect x="86.4" y="327.4" width="53.4" height="53.3" fill="#000" stroke="none" stroke-width="1" filter="url(#fGreen)"/>
<rect x="141.3" y="327.4" width="53.4" height="53.3" fill="#000" stroke="none" stroke-width="1" filter="url(#fRed)"/>
<rect x="196.2" y="327.4" width="53.4" height="53.3" fill="#000" stroke="none" stroke-width="1" filter="url(#fMag)"/>
<rect x="31.5" y="383.7" width="218.5" height="53.3" fill="#c4c4c4" stroke="none" stroke-width="1" />
<rect x="31.5" y="383.7" width="53.4" height="53.3" fill="#000" stroke="none" stroke-width="1" filter="url(#fMerge2)"/>
<rect x="86.4" y="383.7" width="53.4" height="53.3" fill="#000" stroke="none" stroke-width="1" filter="url(#fGreen2)"/>
<rect x="141.3" y="383.7" width="53.4" height="53.3" fill="#000" stroke="none" stroke-width="1" filter="url(#fRed2)"/>
<rect x="196.2" y="383.7" width="53.4" height="53.3" fill="#000" stroke="none" stroke-width="1" filter="url(#fDark)"/>
<rect x="64.5" y="373" width="18.5" height="3" fill="#fff" stroke="none" stroke-width="1" />
<rect x="64.5" y="429.8" width="18.5" height="3" fill="#fff" stroke="none" stroke-width="1" />
<text x="24.8" y="355" font-size="10" text-anchor="middle" fill="#1a1a1a" transform="rotate(-90 24.8 355)" stroke="#1a1a1a" stroke-width="0.14" >sgScramble</text>
<text x="24.8" y="410.3" font-size="10.2" text-anchor="middle" fill="#1a1a1a" transform="rotate(-90 24.8 410.3)" stroke="#1a1a1a" stroke-width="0.14" >sgKRT19</text>
<text x="303.7" y="303" font-size="9.7" text-anchor="middle" fill="#1a1a1a" stroke="#1a1a1a" stroke-width="0.14" >CD3e<tspan font-size="7.0" dy="-3.6">+</tspan><tspan dy="3.6"> T cells</tspan></text>
<text x="304.9" y="315.1" font-size="9.7" text-anchor="middle" fill="#1a1a1a" stroke="#1a1a1a" stroke-width="0.14" >/ mm<tspan font-size="7.0" dy="-3.6">2</tspan></text>
<line x1="282" y1="330.5" x2="282" y2="415" stroke="#2a2a2a" stroke-width="1" />
<line x1="281.5" y1="414.5" x2="337.5" y2="414.5" stroke="#2a2a2a" stroke-width="1" />
<line x1="278.5" y1="414.5" x2="282" y2="414.5" stroke="#2a2a2a" stroke-width="1" />
<text x="277.5" y="417.6" font-size="8.8" text-anchor="end" fill="#1a1a1a" stroke="#1a1a1a" stroke-width="0.14" >0</text>
<line x1="278.5" y1="393.625" x2="282" y2="393.625" stroke="#2a2a2a" stroke-width="1" />
<text x="277.5" y="396.725" font-size="8.8" text-anchor="end" fill="#1a1a1a" stroke="#1a1a1a" stroke-width="0.14" >500</text>
<line x1="278.5" y1="372.75" x2="282" y2="372.75" stroke="#2a2a2a" stroke-width="1" />
<text x="277.5" y="375.85" font-size="8.8" text-anchor="end" fill="#1a1a1a" stroke="#1a1a1a" stroke-width="0.14" >1000</text>
<line x1="278.5" y1="351.875" x2="282" y2="351.875" stroke="#2a2a2a" stroke-width="1" />
<text x="277.5" y="354.975" font-size="8.8" text-anchor="end" fill="#1a1a1a" stroke="#1a1a1a" stroke-width="0.14" >1500</text>
<line x1="278.5" y1="331.0" x2="282" y2="331.0" stroke="#2a2a2a" stroke-width="1" />
<text x="277.5" y="334.1" font-size="8.8" text-anchor="end" fill="#1a1a1a" stroke="#1a1a1a" stroke-width="0.14" >2000</text>
<line x1="297.6" y1="414.5" x2="297.6" y2="418" stroke="#2a2a2a" stroke-width="1" />
<line x1="322.3" y1="414.5" x2="322.3" y2="418" stroke="#2a2a2a" stroke-width="1" />
<polyline points="297.6,340.2 297.6,334.1 322.3,334.1 322.3,340.2" fill="none" stroke="#2a2a2a" stroke-width="1"/>
<text x="309.8" y="330.8" font-size="10.3" text-anchor="middle" fill="#1a1a1a" stroke="#1a1a1a" stroke-width="0.14" >ns</text>
<rect x="296.59999999999997" y="369.4" width="3.2" height="3.2" fill="#111" stroke="none" stroke-width="1" />
<rect x="296.59999999999997" y="371.9" width="3.2" height="3.2" fill="#111" stroke="none" stroke-width="1" />
<rect x="296.59999999999997" y="373.9" width="3.2" height="3.2" fill="#111" stroke="none" stroke-width="1" />
<rect x="296.09999999999997" y="390.29999999999995" width="3.2" height="3.2" fill="#111" stroke="none" stroke-width="1" />
<rect x="298.0" y="389.59999999999997" width="3.2" height="3.2" fill="#111" stroke="none" stroke-width="1" />
<rect x="294.4" y="391.29999999999995" width="3.2" height="3.2" fill="#111" stroke="none" stroke-width="1" />
<rect x="289.4" y="412.0" width="3.2" height="3.2" fill="#111" stroke="none" stroke-width="1" />
<rect x="292.0" y="410.79999999999995" width="3.2" height="3.2" fill="#111" stroke="none" stroke-width="1" />
<rect x="294.59999999999997" y="412.2" width="3.2" height="3.2" fill="#111" stroke="none" stroke-width="1" />
<rect x="297.4" y="412.0" width="3.2" height="3.2" fill="#111" stroke="none" stroke-width="1" />
<rect x="300.2" y="412.2" width="3.2" height="3.2" fill="#111" stroke="none" stroke-width="1" />
<rect x="302.79999999999995" y="412.0" width="3.2" height="3.2" fill="#111" stroke="none" stroke-width="1" />
<line x1="290.3" y1="401.4" x2="305.8" y2="401.4" stroke="#111" stroke-width="1.1" />
<line x1="298.2" y1="396.0" x2="298.2" y2="407.2" stroke="#111" stroke-width="1.1" />
<line x1="294.3" y1="396.0" x2="302.0" y2="396.0" stroke="#111" stroke-width="1.1" />
<line x1="294.3" y1="407.2" x2="302.0" y2="407.2" stroke="#111" stroke-width="1.1" />
<circle cx="322.3" cy="361.8" r="1.9" fill="#1a22e0"/>
<circle cx="322.3" cy="372.5" r="1.9" fill="#1a22e0"/>
<circle cx="322.2" cy="385.9" r="1.9" fill="#1a22e0"/>
<circle cx="322.2" cy="394.0" r="1.9" fill="#1a22e0"/>
<circle cx="319.0" cy="403.1" r="1.9" fill="#1a22e0"/>
<circle cx="325.3" cy="401.4" r="1.9" fill="#1a22e0"/>
<circle cx="315.7" cy="409.9" r="1.9" fill="#1a22e0"/>
<circle cx="315.7" cy="414.0" r="1.9" fill="#1a22e0"/>
<circle cx="322.2" cy="411.4" r="1.9" fill="#1a22e0"/>
<circle cx="328.7" cy="406.7" r="1.9" fill="#1a22e0"/>
<circle cx="328.7" cy="410.1" r="1.9" fill="#1a22e0"/>
<circle cx="328.7" cy="413.8" r="1.9" fill="#1a22e0"/>
<line x1="314.3" y1="398.5" x2="330.0" y2="398.5" stroke="#1a22e0" stroke-width="1.1" />
<line x1="322.3" y1="393.6" x2="322.3" y2="403.1" stroke="#1a22e0" stroke-width="1.1" />
<line x1="318.5" y1="393.6" x2="326.2" y2="393.6" stroke="#1a22e0" stroke-width="1.1" />
<line x1="318.5" y1="403.1" x2="326.2" y2="403.1" stroke="#1a22e0" stroke-width="1.1" />
<text x="300.6" y="425.8" font-size="9.4" text-anchor="end" fill="#1a1a1a" transform="rotate(-45 300.6 425.8)" stroke="#1a1a1a" stroke-width="0.14" >sgScramble</text>
<text x="325.3" y="425.8" font-size="9.4" text-anchor="end" fill="#1a1a1a" transform="rotate(-45 325.3 425.8)" stroke="#1a1a1a" stroke-width="0.14" >sgKRT19</text>
<text x="0" y="0" font-size="18.2" fill="#111" stroke="#111" stroke-width="0.45" transform="translate(349.2 319.9) scale(0.95 1)">I</text>
<text x="347" y="341.3" font-size="10" text-anchor="start" fill="#1a1a1a" stroke="#1a1a1a" stroke-width="0.14" >Wild</text>
<text x="347" y="352.8" font-size="10" text-anchor="start" fill="#1a1a1a" stroke="#1a1a1a" stroke-width="0.14" >type</text>
<g transform="translate(376.3 332) scale(0.93)"><rect x="-4.4" y="0" width="8.8" height="1.8" fill="#222"/><rect x="-0.6" y="1.8" width="1.2" height="1.6" fill="#222"/><rect x="-4.2" y="3.3" width="8.4" height="1.7" fill="#222"/><rect x="-2.7" y="5" width="5.4" height="13" fill="#fff" stroke="#222" stroke-width="1"/><rect x="-2.2" y="12.2" width="4.4" height="5.3" fill="#e29a8b"/><rect x="-2.6" y="11.2" width="5.2" height="1.2" fill="#222"/><path d="M-2.7,18 L0,20.5 L2.7,18 Z" fill="#222"/><rect x="-0.55" y="20" width="1.1" height="10" fill="#222"/></g>
<g transform="translate(366.2 364.6) scale(1.0)"><path d="M0.4,0.2 C-2,-3 -4.5,-4.8 -7.2,-4.6 C-10.5,-4.2 -14,-0.5 -16.5,1.6 C-17.4,2.2 -18.3,2.1 -18.8,1.8" fill="none" stroke="#4a4a4a" stroke-width="1.9" stroke-linecap="round"/><path d="M0.4,0.2 C-2,-3 -4.5,-4.8 -7.2,-4.6 C-10.5,-4.2 -14,-0.5 -16.5,1.6 C-17.4,2.2 -18.3,2.1 -18.8,1.8" fill="none" stroke="#b5b5b5" stroke-width="0.8" stroke-linecap="round"/><path d="M0,0 C6,0 10.3,6.2 10.3,12.8 C10.3,18.2 6.2,23 1.8,26.2 L0,26.9 L-1.8,26.2 C-6.2,23 -10.3,18.2 -10.3,12.8 C-10.3,6.2 -6,0 0,0 Z" fill="#b3b3b3" stroke="#3a3a3a" stroke-width="0.8"/><path d="M-10.2,15.2 C-9.8,10.4 -5.6,9.2 -3.6,12.8 C-5.8,11.6 -8.8,12.2 -10.2,15.2 Z" fill="#1e1e1e" stroke="#1e1e1e" stroke-width="0.9" stroke-linejoin="round"/><path d="M10.2,15.2 C9.8,10.4 5.6,9.2 3.6,12.8 C5.8,11.6 8.8,12.2 10.2,15.2 Z" fill="#1e1e1e" stroke="#1e1e1e" stroke-width="0.9" stroke-linejoin="round"/><circle cx="-2.6" cy="20.2" r="1.05" fill="#2a2a2a"/><circle cx="2.6" cy="20.2" r="1.05" fill="#2a2a2a"/><path d="M-1.6,24.6 L0,26.2 L1.6,24.6 Z" fill="#222"/><path d="M-2.2,24 L-8.2,21.6 M-2.2,24.6 L-8.6,25.4 M-2,25.2 L-6.6,28.4 M2.2,24 L8.2,21.6 M2.2,24.6 L8.6,25.4 M2,25.2 L6.6,28.4" stroke="#555" stroke-width="0.45" fill="none"/></g>
<text x="416.8" y="337.5" font-size="10" text-anchor="middle" fill="#1a1a1a" stroke="#1a1a1a" stroke-width="0.14" >sgKRT19</text>
<text x="416.8" y="349.5" font-size="10" text-anchor="middle" fill="#1a1a1a" stroke="#1a1a1a" stroke-width="0.14" >s.c. injection</text>
<text x="477.8" y="337.5" font-size="10" text-anchor="middle" fill="#1a1a1a" stroke="#1a1a1a" stroke-width="0.14" >Monitor</text>
<text x="477.8" y="349.5" font-size="10" text-anchor="middle" fill="#1a1a1a" stroke="#1a1a1a" stroke-width="0.14" >tumor</text>
<line x1="416.0" y1="356.3" x2="416.0" y2="362.0" stroke="#1a1a1a" stroke-width="1.1" />
<path d="M413.6,359.6 L416.0,364.0 L418.4,359.6 L416.0,360.90000000000003 Z" fill="#1a1a1a"/>
<rect x="458.3" y="356.3" width="38.7" height="6.2" fill="#a9a9a9" stroke="#333" stroke-width="0.9" />
<line x1="403.3" y1="367.5" x2="507" y2="367.5" stroke="#2a2a2a" stroke-width="1" />
<polyline points="502,364 507.5,367.5 502,371" fill="none" stroke="#2a2a2a" stroke-width="1"/>
<line x1="403.3" y1="367.5" x2="403.3" y2="371.3" stroke="#2a2a2a" stroke-width="1" />
<line x1="416.3" y1="367.5" x2="416.3" y2="371.3" stroke="#2a2a2a" stroke-width="1" />
<line x1="437.5" y1="367.5" x2="437.5" y2="371.3" stroke="#2a2a2a" stroke-width="1" />
<line x1="448.8" y1="367.5" x2="448.8" y2="371.3" stroke="#2a2a2a" stroke-width="1" />
<line x1="458.8" y1="367.5" x2="458.8" y2="371.3" stroke="#2a2a2a" stroke-width="1" />
<line x1="485" y1="367.5" x2="485" y2="371.3" stroke="#2a2a2a" stroke-width="1" />
<line x1="496.3" y1="367.5" x2="496.3" y2="371.3" stroke="#2a2a2a" stroke-width="1" />
<text x="380" y="383.6" font-size="10" text-anchor="start" fill="#1a1a1a" stroke="#1a1a1a" stroke-width="0.14" >Day</text>
<text x="405.3" y="383.6" font-size="10" text-anchor="middle" fill="#1a1a1a" stroke="#1a1a1a" stroke-width="0.14" >-2</text>
<text x="416.5" y="383.6" font-size="10" text-anchor="middle" fill="#1a1a1a" stroke="#1a1a1a" stroke-width="0.14" >0</text>
<text x="437.5" y="383.6" font-size="10" text-anchor="middle" fill="#1a1a1a" stroke="#1a1a1a" stroke-width="0.14" >4</text>
<text x="448.8" y="383.6" font-size="10" text-anchor="middle" fill="#1a1a1a" stroke="#1a1a1a" stroke-width="0.14" >6</text>
<text x="459" y="383.6" font-size="10" text-anchor="middle" fill="#1a1a1a" stroke="#1a1a1a" stroke-width="0.14" >8</text>
<text x="485" y="383.6" font-size="10" text-anchor="middle" fill="#1a1a1a" stroke="#1a1a1a" stroke-width="0.14" >12</text>
<text x="497" y="383.6" font-size="10" text-anchor="middle" fill="#1a1a1a" stroke="#1a1a1a" stroke-width="0.14" >14</text>
<text x="348" y="409.6" font-size="10" text-anchor="start" fill="#1a1a1a" stroke="#1a1a1a" stroke-width="0.14" >α-IFNAR:</text>
<path d="M399.5,391.3 L397.3,391.3 L397.3,405.2 L394.8,405.2 M397.3,405.2 L397.3,419 L399.5,419" fill="none" stroke="#2a2a2a" stroke-width="0.9"/>
<rect x="401.8" y="391.6" width="38.7" height="5.4" fill="#4a7fd0" stroke="#333" stroke-width="0.9" />
<rect x="448" y="400.8" width="38.7" height="5.7" fill="#f9b985" stroke="#333" stroke-width="0.9" />
<rect x="401.8" y="412.3" width="85" height="5.9" fill="#f26b72" stroke="#333" stroke-width="0.9" />
<text x="490" y="397" font-size="10" text-anchor="start" fill="#1a1a1a" stroke="#1a1a1a" stroke-width="0.14" >Early</text>
<text x="490" y="408.5" font-size="10" text-anchor="start" fill="#1a1a1a" stroke="#1a1a1a" stroke-width="0.14" >Late</text>
<text x="490" y="419.6" font-size="10" text-anchor="start" fill="#1a1a1a" stroke="#1a1a1a" stroke-width="0.14" >Full</text>
<text x="0" y="0" font-size="18.2" fill="#111" stroke="#111" stroke-width="0.45" transform="translate(515.4 307.8) scale(0.95 1)">J</text>
<line x1="563.3" y1="299.8" x2="574.4" y2="299.8" stroke="#ee3a3a" stroke-width="1.2" />
<circle cx="568.8" cy="299.8" r="2.3" fill="#ee3a3a"/>
<text x="580.6" y="302.90000000000003" font-size="8.75" text-anchor="start" fill="#1a1a1a" stroke="#1a1a1a" stroke-width="0.14" >α-IFNAR D-2 - D12</text>
<line x1="563.3" y1="312.90000000000003" x2="574.4" y2="312.90000000000003" stroke="#6aa6ee" stroke-width="1.2" />
<circle cx="568.8" cy="312.90000000000003" r="2.3" fill="#6aa6ee"/>
<text x="580.6" y="316.00000000000006" font-size="8.75" text-anchor="start" fill="#1a1a1a" stroke="#1a1a1a" stroke-width="0.14" >α-IFNAR D-2 - D4</text>
<line x1="563.3" y1="326.0" x2="574.4" y2="326.0" stroke="#f3a24e" stroke-width="1.2" />
<circle cx="568.8" cy="326.0" r="2.3" fill="#f3a24e"/>
<text x="580.6" y="329.1" font-size="8.75" text-anchor="start" fill="#1a1a1a" stroke="#1a1a1a" stroke-width="0.14" >α-IFNAR D6 - D12</text>
<line x1="563.3" y1="339.1" x2="574.4" y2="339.1" stroke="#111111" stroke-width="1.2" />
<circle cx="568.8" cy="339.1" r="2.3" fill="#111111"/>
<text x="580.6" y="342.20000000000005" font-size="8.75" text-anchor="start" fill="#1a1a1a" stroke="#1a1a1a" stroke-width="0.14" >IgG D-2 - D12</text>
<line x1="563.3" y1="352.2" x2="574.4" y2="352.2" stroke="#8a8a8a" stroke-width="1.2" />
<circle cx="568.8" cy="352.2" r="2.3" fill="#8a8a8a"/>
<text x="580.6" y="355.3" font-size="8.75" text-anchor="start" fill="#1a1a1a" stroke="#1a1a1a" stroke-width="0.14" >Untreated</text>
<line x1="557" y1="333" x2="557" y2="438.4" stroke="#2a2a2a" stroke-width="1" />
<line x1="556.5" y1="437.9" x2="661.4" y2="437.9" stroke="#2a2a2a" stroke-width="1" />
<line x1="553.5" y1="437.9" x2="557" y2="437.9" stroke="#2a2a2a" stroke-width="1" />
<text x="552.5" y="441.0" font-size="8.8" text-anchor="end" fill="#1a1a1a" stroke="#1a1a1a" stroke-width="0.14" >0</text>
<line x1="553.5" y1="417.02" x2="557" y2="417.02" stroke="#2a2a2a" stroke-width="1" />
<text x="552.5" y="420.12" font-size="8.8" text-anchor="end" fill="#1a1a1a" stroke="#1a1a1a" stroke-width="0.14" >50</text>
<line x1="553.5" y1="396.14" x2="557" y2="396.14" stroke="#2a2a2a" stroke-width="1" />
<text x="552.5" y="399.24" font-size="8.8" text-anchor="end" fill="#1a1a1a" stroke="#1a1a1a" stroke-width="0.14" >100</text>
<line x1="553.5" y1="375.26" x2="557" y2="375.26" stroke="#2a2a2a" stroke-width="1" />
<text x="552.5" y="378.36" font-size="8.8" text-anchor="end" fill="#1a1a1a" stroke="#1a1a1a" stroke-width="0.14" >150</text>
<line x1="553.5" y1="354.38" x2="557" y2="354.38" stroke="#2a2a2a" stroke-width="1" />
<text x="552.5" y="357.48" font-size="8.8" text-anchor="end" fill="#1a1a1a" stroke="#1a1a1a" stroke-width="0.14" >200</text>
<line x1="553.5" y1="333.5" x2="557" y2="333.5" stroke="#2a2a2a" stroke-width="1" />
<text x="552.5" y="336.6" font-size="8.8" text-anchor="end" fill="#1a1a1a" stroke="#1a1a1a" stroke-width="0.14" >250</text>
<line x1="569.6" y1="437.9" x2="569.6" y2="441" stroke="#2a2a2a" stroke-width="1" />
<text x="569.6" y="450" font-size="9.4" text-anchor="middle" fill="#1a1a1a" stroke="#1a1a1a" stroke-width="0.14" >8</text>
<line x1="595.4" y1="437.9" x2="595.4" y2="441" stroke="#2a2a2a" stroke-width="1" />
<text x="595.4" y="450" font-size="9.4" text-anchor="middle" fill="#1a1a1a" stroke="#1a1a1a" stroke-width="0.14" >10</text>
<line x1="621.6" y1="437.9" x2="621.6" y2="441" stroke="#2a2a2a" stroke-width="1" />
<text x="621.6" y="450" font-size="9.4" text-anchor="middle" fill="#1a1a1a" stroke="#1a1a1a" stroke-width="0.14" >12</text>
<line x1="648.3" y1="437.9" x2="648.3" y2="441" stroke="#2a2a2a" stroke-width="1" />
<text x="648.3" y="450" font-size="9.4" text-anchor="middle" fill="#1a1a1a" stroke="#1a1a1a" stroke-width="0.14" >14</text>
<text x="608.8" y="460.3" font-size="9.9" text-anchor="middle" fill="#1a1a1a" stroke="#1a1a1a" stroke-width="0.14" >Days after inoculation</text>
<text x="532.7" y="383.3" font-size="9.9" text-anchor="middle" fill="#1a1a1a" transform="rotate(-90 532.7 383.3)" stroke="#1a1a1a" stroke-width="0.14" >Tumor volume (mm<tspan font-size="6" dy="-3.5">3</tspan><tspan dy="3.5">)</tspan></text>
<line x1="569.6" y1="424.1192" x2="569.6" y2="420.3608" stroke="#8a8a8a" stroke-width="0.8" opacity="0.75"/>
<line x1="567.1" y1="424.1192" x2="572.1" y2="424.1192" stroke="#8a8a8a" stroke-width="0.8" opacity="0.75"/>
<line x1="567.1" y1="420.3608" x2="572.1" y2="420.3608" stroke="#8a8a8a" stroke-width="0.8" opacity="0.75"/>
<line x1="595.4" y1="420.7784" x2="595.4" y2="413.6792" stroke="#8a8a8a" stroke-width="0.8" opacity="0.75"/>
<line x1="592.9" y1="420.7784" x2="597.9" y2="420.7784" stroke="#8a8a8a" stroke-width="0.8" opacity="0.75"/>
<line x1="592.9" y1="413.6792" x2="597.9" y2="413.6792" stroke="#8a8a8a" stroke-width="0.8" opacity="0.75"/>
<line x1="621.6" y1="407.83279999999996" x2="621.6" y2="396.9752" stroke="#8a8a8a" stroke-width="0.8" opacity="0.75"/>
<line x1="619.1" y1="407.83279999999996" x2="624.1" y2="407.83279999999996" stroke="#8a8a8a" stroke-width="0.8" opacity="0.75"/>
<line x1="619.1" y1="396.9752" x2="624.1" y2="396.9752" stroke="#8a8a8a" stroke-width="0.8" opacity="0.75"/>
<line x1="648.3" y1="406.58" x2="648.3" y2="385.7" stroke="#8a8a8a" stroke-width="0.8" opacity="0.75"/>
<line x1="645.8" y1="406.58" x2="650.8" y2="406.58" stroke="#8a8a8a" stroke-width="0.8" opacity="0.75"/>
<line x1="645.8" y1="385.7" x2="650.8" y2="385.7" stroke="#8a8a8a" stroke-width="0.8" opacity="0.75"/>
<line x1="569.6" y1="421.19599999999997" x2="569.6" y2="417.02" stroke="#f3a24e" stroke-width="0.8" opacity="0.75"/>
<line x1="567.1" y1="421.19599999999997" x2="572.1" y2="421.19599999999997" stroke="#f3a24e" stroke-width="0.8" opacity="0.75"/>
<line x1="567.1" y1="417.02" x2="572.1" y2="417.02" stroke="#f3a24e" stroke-width="0.8" opacity="0.75"/>
<line x1="595.4" y1="417.02" x2="595.4" y2="410.3384" stroke="#f3a24e" stroke-width="0.8" opacity="0.75"/>
<line x1="592.9" y1="417.02" x2="597.9" y2="417.02" stroke="#f3a24e" stroke-width="0.8" opacity="0.75"/>
<line x1="592.9" y1="410.3384" x2="597.9" y2="410.3384" stroke="#f3a24e" stroke-width="0.8" opacity="0.75"/>
<line x1="621.6" y1="411.17359999999996" x2="621.6" y2="399.4808" stroke="#f3a24e" stroke-width="0.8" opacity="0.75"/>
<line x1="619.1" y1="411.17359999999996" x2="624.1" y2="411.17359999999996" stroke="#f3a24e" stroke-width="0.8" opacity="0.75"/>
<line x1="619.1" y1="399.4808" x2="624.1" y2="399.4808" stroke="#f3a24e" stroke-width="0.8" opacity="0.75"/>
<line x1="648.3" y1="400.316" x2="648.3" y2="383.61199999999997" stroke="#f3a24e" stroke-width="0.8" opacity="0.75"/>
<line x1="645.8" y1="400.316" x2="650.8" y2="400.316" stroke="#f3a24e" stroke-width="0.8" opacity="0.75"/>
<line x1="645.8" y1="383.61199999999997" x2="650.8" y2="383.61199999999997" stroke="#f3a24e" stroke-width="0.8" opacity="0.75"/>
<line x1="569.6" y1="420.7784" x2="569.6" y2="416.6024" stroke="#111111" stroke-width="0.8" opacity="0.75"/>
<line x1="567.1" y1="420.7784" x2="572.1" y2="420.7784" stroke="#111111" stroke-width="0.8" opacity="0.75"/>
<line x1="567.1" y1="416.6024" x2="572.1" y2="416.6024" stroke="#111111" stroke-width="0.8" opacity="0.75"/>
<line x1="595.4" y1="417.85519999999997" x2="595.4" y2="410.3384" stroke="#111111" stroke-width="0.8" opacity="0.75"/>
<line x1="592.9" y1="417.85519999999997" x2="597.9" y2="417.85519999999997" stroke="#111111" stroke-width="0.8" opacity="0.75"/>
<line x1="592.9" y1="410.3384" x2="597.9" y2="410.3384" stroke="#111111" stroke-width="0.8" opacity="0.75"/>
<line x1="621.6" y1="407.83279999999996" x2="621.6" y2="396.14" stroke="#111111" stroke-width="0.8" opacity="0.75"/>
<line x1="619.1" y1="407.83279999999996" x2="624.1" y2="407.83279999999996" stroke="#111111" stroke-width="0.8" opacity="0.75"/>
<line x1="619.1" y1="396.14" x2="624.1" y2="396.14" stroke="#111111" stroke-width="0.8" opacity="0.75"/>
<line x1="648.3" y1="395.3048" x2="648.3" y2="380.27119999999996" stroke="#111111" stroke-width="0.8" opacity="0.75"/>
<line x1="645.8" y1="395.3048" x2="650.8" y2="395.3048" stroke="#111111" stroke-width="0.8" opacity="0.75"/>
<line x1="645.8" y1="380.27119999999996" x2="650.8" y2="380.27119999999996" stroke="#111111" stroke-width="0.8" opacity="0.75"/>
<line x1="569.6" y1="419.5256" x2="569.6" y2="414.0968" stroke="#6aa6ee" stroke-width="0.8" opacity="0.75"/>
<line x1="567.1" y1="419.5256" x2="572.1" y2="419.5256" stroke="#6aa6ee" stroke-width="0.8" opacity="0.75"/>
<line x1="567.1" y1="414.0968" x2="572.1" y2="414.0968" stroke="#6aa6ee" stroke-width="0.8" opacity="0.75"/>
<line x1="595.4" y1="406.58" x2="595.4" y2="391.964" stroke="#6aa6ee" stroke-width="0.8" opacity="0.75"/>
<line x1="592.9" y1="406.58" x2="597.9" y2="406.58" stroke="#6aa6ee" stroke-width="0.8" opacity="0.75"/>
<line x1="592.9" y1="391.964" x2="597.9" y2="391.964" stroke="#6aa6ee" stroke-width="0.8" opacity="0.75"/>
<line x1="621.6" y1="396.14" x2="621.6" y2="368.996" stroke="#6aa6ee" stroke-width="0.8" opacity="0.75"/>
<line x1="619.1" y1="396.14" x2="624.1" y2="396.14" stroke="#6aa6ee" stroke-width="0.8" opacity="0.75"/>
<line x1="619.1" y1="368.996" x2="624.1" y2="368.996" stroke="#6aa6ee" stroke-width="0.8" opacity="0.75"/>
<line x1="648.3" y1="378.1832" x2="648.3" y2="340.5992" stroke="#6aa6ee" stroke-width="0.8" opacity="0.75"/>
<line x1="645.8" y1="378.1832" x2="650.8" y2="378.1832" stroke="#6aa6ee" stroke-width="0.8" opacity="0.75"/>
<line x1="645.8" y1="340.5992" x2="650.8" y2="340.5992" stroke="#6aa6ee" stroke-width="0.8" opacity="0.75"/>
<line x1="569.6" y1="419.5256" x2="569.6" y2="409.9208" stroke="#ee3a3a" stroke-width="0.8" opacity="0.75"/>
<line x1="567.1" y1="419.5256" x2="572.1" y2="419.5256" stroke="#ee3a3a" stroke-width="0.8" opacity="0.75"/>
<line x1="567.1" y1="409.9208" x2="572.1" y2="409.9208" stroke="#ee3a3a" stroke-width="0.8" opacity="0.75"/>
<line x1="595.4" y1="404.49199999999996" x2="595.4" y2="384.8648" stroke="#ee3a3a" stroke-width="0.8" opacity="0.75"/>
<line x1="592.9" y1="404.49199999999996" x2="597.9" y2="404.49199999999996" stroke="#ee3a3a" stroke-width="0.8" opacity="0.75"/>
<line x1="592.9" y1="384.8648" x2="597.9" y2="384.8648" stroke="#ee3a3a" stroke-width="0.8" opacity="0.75"/>
<line x1="621.6" y1="392.7992" x2="621.6" y2="376.0952" stroke="#ee3a3a" stroke-width="0.8" opacity="0.75"/>
<line x1="619.1" y1="392.7992" x2="624.1" y2="392.7992" stroke="#ee3a3a" stroke-width="0.8" opacity="0.75"/>
<line x1="619.1" y1="376.0952" x2="624.1" y2="376.0952" stroke="#ee3a3a" stroke-width="0.8" opacity="0.75"/>
<line x1="648.3" y1="377.348" x2="648.3" y2="347.2808" stroke="#ee3a3a" stroke-width="0.8" opacity="0.75"/>
<line x1="645.8" y1="377.348" x2="650.8" y2="377.348" stroke="#ee3a3a" stroke-width="0.8" opacity="0.75"/>
<line x1="645.8" y1="347.2808" x2="650.8" y2="347.2808" stroke="#ee3a3a" stroke-width="0.8" opacity="0.75"/>
<polyline points="569.6,422.4488 595.4,417.02 621.6,402.404 648.3,396.5576" fill="none" stroke="#8a8a8a" stroke-width="1.5"/>
<circle cx="569.6" cy="422.4488" r="2.6" fill="#8a8a8a"/>
<circle cx="595.4" cy="417.02" r="2.6" fill="#8a8a8a"/>
<circle cx="621.6" cy="402.404" r="2.6" fill="#8a8a8a"/>
<circle cx="648.3" cy="396.5576" r="2.6" fill="#8a8a8a"/>
<polyline points="569.6,419.108 595.4,413.6792 621.6,405.3272 648.3,391.5464" fill="none" stroke="#f3a24e" stroke-width="1.5"/>
<circle cx="569.6" cy="419.108" r="2.6" fill="#f3a24e"/>
<circle cx="595.4" cy="413.6792" r="2.6" fill="#f3a24e"/>
<circle cx="621.6" cy="405.3272" r="2.6" fill="#f3a24e"/>
<circle cx="648.3" cy="391.5464" r="2.6" fill="#f3a24e"/>
<polyline points="569.6,418.69039999999995 595.4,414.0968 621.6,401.9864 648.3,387.788" fill="none" stroke="#111111" stroke-width="1.5"/>
<circle cx="569.6" cy="418.69039999999995" r="2.6" fill="#111111"/>
<circle cx="595.4" cy="414.0968" r="2.6" fill="#111111"/>
<circle cx="621.6" cy="401.9864" r="2.6" fill="#111111"/>
<circle cx="648.3" cy="387.788" r="2.6" fill="#111111"/>
<polyline points="569.6,417.02 595.4,399.4808 621.6,382.3592 648.3,359.39119999999997" fill="none" stroke="#6aa6ee" stroke-width="1.5"/>
<circle cx="569.6" cy="417.02" r="2.6" fill="#6aa6ee"/>
<circle cx="595.4" cy="399.4808" r="2.6" fill="#6aa6ee"/>
<circle cx="621.6" cy="382.3592" r="2.6" fill="#6aa6ee"/>
<circle cx="648.3" cy="359.39119999999997" r="2.6" fill="#6aa6ee"/>
<polyline points="569.6,414.93199999999996 595.4,394.8872 621.6,384.4472 648.3,362.3144" fill="none" stroke="#ee3a3a" stroke-width="1.5"/>
<circle cx="569.6" cy="414.93199999999996" r="2.6" fill="#ee3a3a"/>
<circle cx="595.4" cy="394.8872" r="2.6" fill="#ee3a3a"/>
<circle cx="621.6" cy="384.4472" r="2.6" fill="#ee3a3a"/>
<circle cx="648.3" cy="362.3144" r="2.6" fill="#ee3a3a"/>
<path d="M655.3,354.1 L655.3,360.8 M655.3,357.5 L659.7,357.5 L659.7,396.2 L656,396.2" fill="none" stroke="#444" stroke-width="0.9"/>
<path d="M664.5,384 L664.5,391.3 M664.5,387.6 L666.6,387.6 L666.6,396.2 L664.2,396.2" fill="none" stroke="#444" stroke-width="0.9"/>
<path d="M666.00,375.95 L666.00,381.45 M663.62,377.32 L668.38,380.07 M668.38,377.32 L663.62,380.07 " stroke="#111" stroke-width="1.25" stroke-linecap="butt" fill="none"/>
<path d="M673.60,375.95 L673.60,381.45 M671.22,377.32 L675.98,380.07 M675.98,377.32 L671.22,380.07 " stroke="#111" stroke-width="1.25" stroke-linecap="butt" fill="none"/>
<text x="669.8" y="396" font-size="10.2" text-anchor="start" fill="#1a1a1a" stroke="#1a1a1a" stroke-width="0.14" >ns</text>
<rect x="0" y="469.6" width="692" height="1.4" fill="#3b5560"/>
</svg>
</body></html>
